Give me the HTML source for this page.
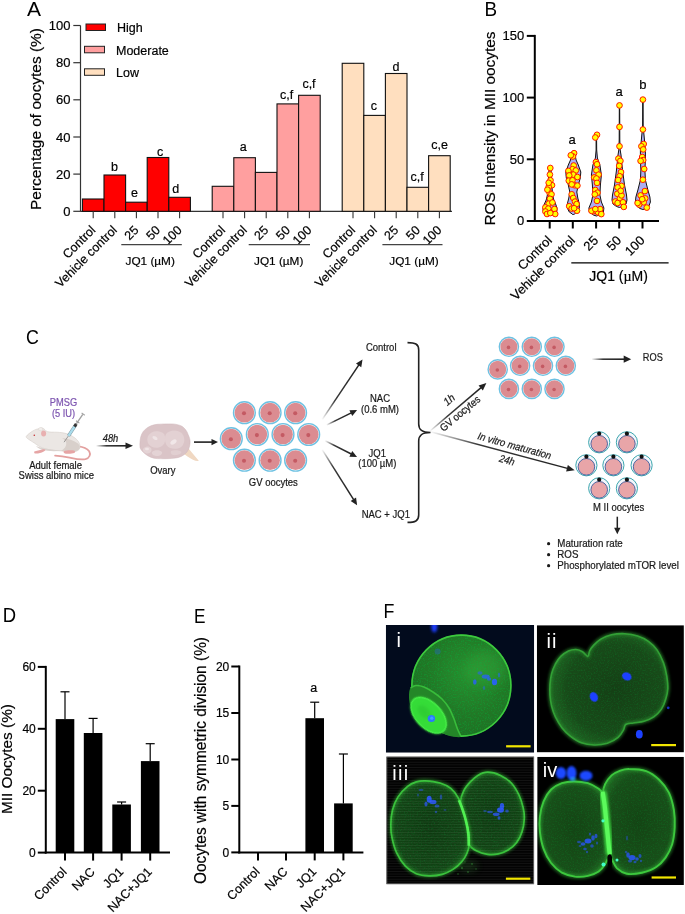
<!DOCTYPE html>
<html><head><meta charset="utf-8"><style>
html,body{margin:0;padding:0;background:#fff;overflow:hidden;}
svg{display:block;font-family:"Liberation Sans", sans-serif;will-change:transform;}
</style></head><body>
<svg width="685" height="914" viewBox="0 0 685 914">
<defs>
<linearGradient id="fadeA" x1="0" y1="0" x2="1" y2="0"><stop offset="0" stop-color="#222" stop-opacity="0"/><stop offset="0.35" stop-color="#222" stop-opacity="0.9"/><stop offset="1" stop-color="#222"/></linearGradient>
<radialGradient id="ovg" cx="0.45" cy="0.45" r="0.6"><stop offset="0" stop-color="#e4d0d3"/><stop offset="1" stop-color="#d5bcc0"/></radialGradient>
<marker id="ah" viewBox="0 0 10 10" refX="9" refY="5" markerWidth="6.5" markerHeight="6.5" markerUnits="userSpaceOnUse" orient="auto"><path d="M0,0 L10,5 L0,10 z" fill="#222"/></marker>
</defs>
<defs>
<filter id="b04" x="-20%" y="-20%" width="140%" height="140%"><feGaussianBlur stdDeviation="0.4"/></filter>
<filter id="b06" x="-20%" y="-20%" width="140%" height="140%"><feGaussianBlur stdDeviation="0.6"/></filter>
<filter id="b08" x="-20%" y="-20%" width="140%" height="140%"><feGaussianBlur stdDeviation="0.8"/></filter>
<filter id="b15" x="-30%" y="-30%" width="160%" height="160%"><feGaussianBlur stdDeviation="1.5"/></filter>
<filter id="b3" x="-50%" y="-50%" width="200%" height="200%"><feGaussianBlur stdDeviation="3"/></filter>
<filter id="b6" x="-50%" y="-50%" width="200%" height="200%"><feGaussianBlur stdDeviation="6"/></filter>
<filter id="noise" x="0" y="0" width="100%" height="100%">
 <feTurbulence type="fractalNoise" baseFrequency="0.7" numOctaves="2" seed="5" result="t"/>
 <feColorMatrix type="matrix" values="0 0 0 0 0  0 0 0 0 0.5  0 0 0 0 0.05  0 0 0 1.6 -0.75" in="t" result="g"/>
 <feComposite in="g" in2="SourceGraphic" operator="in"/>
</filter>
<radialGradient id="gi" cx="0.58" cy="0.38" r="0.65"><stop offset="0" stop-color="#299030"/><stop offset="0.6" stop-color="#227826"/><stop offset="1" stop-color="#1e7023"/></radialGradient>
<radialGradient id="gii" cx="0.55" cy="0.5" r="0.55"><stop offset="0" stop-color="#153f15"/><stop offset="0.75" stop-color="#184a19"/><stop offset="1" stop-color="#1f6222"/></radialGradient>
<radialGradient id="giii" cx="0.5" cy="0.5" r="0.55"><stop offset="0" stop-color="#0e3810"/><stop offset="0.8" stop-color="#124214"/><stop offset="1" stop-color="#195a1c"/></radialGradient>
<radialGradient id="giv" cx="0.5" cy="0.5" r="0.55"><stop offset="0" stop-color="#144414"/><stop offset="0.8" stop-color="#184e19"/><stop offset="1" stop-color="#206622"/></radialGradient>
<pattern id="scan" width="4" height="2.6" patternUnits="userSpaceOnUse"><rect y="0" width="4" height="0.7" fill="#ffffff" fill-opacity="0.08"/></pattern>
<clipPath id="cpi"><rect x="385.8" y="624.9" width="148.4" height="127.8"/></clipPath>
<clipPath id="cpii"><rect x="536.8" y="625.2" width="147.1" height="127.2"/></clipPath>
<clipPath id="cpiii"><rect x="386.3" y="756.5" width="147.9" height="127.8"/></clipPath>
<clipPath id="cpiv"><rect x="537.2" y="756.8" width="146.7" height="128.3"/></clipPath>
<clipPath id="cpcell"><ellipse cx="461.4" cy="685.6" rx="50.1" ry="51.1"/></clipPath>
</defs>
<text transform="translate(27.1,15.8)" font-size="21" fill="#000">A</text>
<line x1="80.5" y1="25.5" x2="80.5" y2="211.8" stroke="#333" stroke-width="1.2" />
<line x1="73.3" y1="211.3" x2="80.5" y2="211.3" stroke="#333" stroke-width="1.2" />
<text x="70.5" y="215.9" font-size="13" text-anchor="end" fill="#000" stroke="#000" stroke-width="0.2" >0</text>
<line x1="73.3" y1="174.1" x2="80.5" y2="174.1" stroke="#333" stroke-width="1.2" />
<text x="70.5" y="178.7" font-size="13" text-anchor="end" fill="#000" stroke="#000" stroke-width="0.2" >20</text>
<line x1="73.3" y1="137.0" x2="80.5" y2="137.0" stroke="#333" stroke-width="1.2" />
<text x="70.5" y="141.6" font-size="13" text-anchor="end" fill="#000" stroke="#000" stroke-width="0.2" >40</text>
<line x1="73.3" y1="99.8" x2="80.5" y2="99.8" stroke="#333" stroke-width="1.2" />
<text x="70.5" y="104.4" font-size="13" text-anchor="end" fill="#000" stroke="#000" stroke-width="0.2" >60</text>
<line x1="73.3" y1="62.7" x2="80.5" y2="62.7" stroke="#333" stroke-width="1.2" />
<text x="70.5" y="67.3" font-size="13" text-anchor="end" fill="#000" stroke="#000" stroke-width="0.2" >80</text>
<line x1="73.3" y1="25.5" x2="80.5" y2="25.5" stroke="#333" stroke-width="1.2" />
<text x="70.5" y="30.1" font-size="13" text-anchor="end" fill="#000" stroke="#000" stroke-width="0.2" >100</text>
<line x1="80.5" y1="211.3" x2="452.0" y2="211.3" stroke="#333" stroke-width="1.2" />
<text transform="translate(40.8,119.0) rotate(-90)" font-size="15.5" text-anchor="middle" fill="#000" stroke="#000" stroke-width="0.2" textLength="182" lengthAdjust="spacingAndGlyphs">Percentage of oocytes (%)</text>
<rect x="86.0" y="24.0" width="19.5" height="6.5" fill="#ff0000" stroke="#222" stroke-width="1" />
<rect x="84.5" y="46.3" width="20.0" height="6.5" fill="#ff9f9f" stroke="#222" stroke-width="1" />
<rect x="84.5" y="68.8" width="20.0" height="6.5" fill="#ffdfbf" stroke="#222" stroke-width="1" />
<text x="117.0" y="32.0" font-size="12.5" text-anchor="start" fill="#000" stroke="#000" stroke-width="0.2" >High</text>
<text x="116.0" y="54.5" font-size="12.5" text-anchor="start" fill="#000" stroke="#000" stroke-width="0.2" >Moderate</text>
<text x="116.0" y="77.0" font-size="12.5" text-anchor="start" fill="#000" stroke="#000" stroke-width="0.2" >Low</text>
<rect x="82.4" y="199.0" width="21.6" height="12.3" fill="#ff0000" stroke="#111" stroke-width="1.1" />
<line x1="93.2" y1="211.3" x2="93.2" y2="218.3" stroke="#333" stroke-width="1.1" />
<rect x="104.0" y="175.0" width="21.6" height="36.3" fill="#ff0000" stroke="#111" stroke-width="1.1" />
<line x1="114.8" y1="211.3" x2="114.8" y2="218.3" stroke="#333" stroke-width="1.1" />
<rect x="125.6" y="202.2" width="21.6" height="9.1" fill="#ff0000" stroke="#111" stroke-width="1.1" />
<line x1="136.4" y1="211.3" x2="136.4" y2="218.3" stroke="#333" stroke-width="1.1" />
<rect x="147.2" y="157.5" width="21.6" height="53.8" fill="#ff0000" stroke="#111" stroke-width="1.1" />
<line x1="158.0" y1="211.3" x2="158.0" y2="218.3" stroke="#333" stroke-width="1.1" />
<rect x="168.8" y="197.3" width="21.6" height="14.0" fill="#ff0000" stroke="#111" stroke-width="1.1" />
<line x1="179.6" y1="211.3" x2="179.6" y2="218.3" stroke="#333" stroke-width="1.1" />
<text x="114.4" y="170.7" font-size="12.5" text-anchor="middle" fill="#000" stroke="#000" stroke-width="0.2" >b</text>
<text x="134.6" y="197.0" font-size="12.5" text-anchor="middle" fill="#000" stroke="#000" stroke-width="0.2" >e</text>
<text x="160.0" y="155.8" font-size="12.5" text-anchor="middle" fill="#000" stroke="#000" stroke-width="0.2" >c</text>
<text x="175.7" y="192.6" font-size="12.5" text-anchor="middle" fill="#000" stroke="#000" stroke-width="0.2" >d</text>
<text transform="translate(96.2,230.8) rotate(-45)" font-size="12.5" text-anchor="end" fill="#000" stroke="#000" stroke-width="0.2" >Control</text>
<text transform="translate(117.8,230.8) rotate(-45)" font-size="12.5" text-anchor="end" fill="#000" stroke="#000" stroke-width="0.2" >Vehicle control</text>
<text transform="translate(139.4,230.8) rotate(-45)" font-size="12.5" text-anchor="end" fill="#000" stroke="#000" stroke-width="0.2" >25</text>
<text transform="translate(161.0,230.8) rotate(-45)" font-size="12.5" text-anchor="end" fill="#000" stroke="#000" stroke-width="0.2" >50</text>
<text transform="translate(182.6,230.8) rotate(-45)" font-size="12.5" text-anchor="end" fill="#000" stroke="#000" stroke-width="0.2" >100</text>
<line x1="121.3" y1="244.6" x2="181.8" y2="244.6" stroke="#444" stroke-width="1.1" />
<text x="150.2" y="264.6" font-size="11.8" text-anchor="middle" fill="#000" stroke="#000" stroke-width="0.2" >JQ1 (µM)</text>
<rect x="212.2" y="186.3" width="21.6" height="25.0" fill="#ff9f9f" stroke="#111" stroke-width="1.1" />
<line x1="223.0" y1="211.3" x2="223.0" y2="218.3" stroke="#333" stroke-width="1.1" />
<rect x="233.8" y="157.7" width="21.6" height="53.6" fill="#ff9f9f" stroke="#111" stroke-width="1.1" />
<line x1="244.6" y1="211.3" x2="244.6" y2="218.3" stroke="#333" stroke-width="1.1" />
<rect x="255.4" y="172.4" width="21.6" height="38.9" fill="#ff9f9f" stroke="#111" stroke-width="1.1" />
<line x1="266.2" y1="211.3" x2="266.2" y2="218.3" stroke="#333" stroke-width="1.1" />
<rect x="277.0" y="103.9" width="21.6" height="107.4" fill="#ff9f9f" stroke="#111" stroke-width="1.1" />
<line x1="287.8" y1="211.3" x2="287.8" y2="218.3" stroke="#333" stroke-width="1.1" />
<rect x="298.6" y="95.3" width="21.6" height="116.0" fill="#ff9f9f" stroke="#111" stroke-width="1.1" />
<line x1="309.4" y1="211.3" x2="309.4" y2="218.3" stroke="#333" stroke-width="1.1" />
<text x="243.2" y="151.0" font-size="12.5" text-anchor="middle" fill="#000" stroke="#000" stroke-width="0.2" >a</text>
<text x="286.6" y="98.8" font-size="12.5" text-anchor="middle" fill="#000" stroke="#000" stroke-width="0.2" >c,f</text>
<text x="309.0" y="87.8" font-size="12.5" text-anchor="middle" fill="#000" stroke="#000" stroke-width="0.2" >c,f</text>
<text transform="translate(226.0,230.8) rotate(-45)" font-size="12.5" text-anchor="end" fill="#000" stroke="#000" stroke-width="0.2" >Control</text>
<text transform="translate(247.6,230.8) rotate(-45)" font-size="12.5" text-anchor="end" fill="#000" stroke="#000" stroke-width="0.2" >Vehicle control</text>
<text transform="translate(269.2,230.8) rotate(-45)" font-size="12.5" text-anchor="end" fill="#000" stroke="#000" stroke-width="0.2" >25</text>
<text transform="translate(290.8,230.8) rotate(-45)" font-size="12.5" text-anchor="end" fill="#000" stroke="#000" stroke-width="0.2" >50</text>
<text transform="translate(312.4,230.8) rotate(-45)" font-size="12.5" text-anchor="end" fill="#000" stroke="#000" stroke-width="0.2" >100</text>
<line x1="248.7" y1="244.6" x2="310.0" y2="244.6" stroke="#444" stroke-width="1.1" />
<text x="278.7" y="264.6" font-size="11.8" text-anchor="middle" fill="#000" stroke="#000" stroke-width="0.2" >JQ1 (µM)</text>
<rect x="342.2" y="63.3" width="21.6" height="148.0" fill="#ffdfbf" stroke="#111" stroke-width="1.1" />
<line x1="353.0" y1="211.3" x2="353.0" y2="218.3" stroke="#333" stroke-width="1.1" />
<rect x="363.8" y="115.4" width="21.6" height="95.9" fill="#ffdfbf" stroke="#111" stroke-width="1.1" />
<line x1="374.6" y1="211.3" x2="374.6" y2="218.3" stroke="#333" stroke-width="1.1" />
<rect x="385.4" y="73.5" width="21.6" height="137.8" fill="#ffdfbf" stroke="#111" stroke-width="1.1" />
<line x1="396.2" y1="211.3" x2="396.2" y2="218.3" stroke="#333" stroke-width="1.1" />
<rect x="407.0" y="187.3" width="21.6" height="24.0" fill="#ffdfbf" stroke="#111" stroke-width="1.1" />
<line x1="417.8" y1="211.3" x2="417.8" y2="218.3" stroke="#333" stroke-width="1.1" />
<rect x="428.6" y="155.7" width="21.6" height="55.6" fill="#ffdfbf" stroke="#111" stroke-width="1.1" />
<line x1="439.4" y1="211.3" x2="439.4" y2="218.3" stroke="#333" stroke-width="1.1" />
<text x="373.9" y="109.9" font-size="12.5" text-anchor="middle" fill="#000" stroke="#000" stroke-width="0.2" >c</text>
<text x="396.1" y="71.0" font-size="12.5" text-anchor="middle" fill="#000" stroke="#000" stroke-width="0.2" >d</text>
<text x="417.2" y="180.8" font-size="12.5" text-anchor="middle" fill="#000" stroke="#000" stroke-width="0.2" >c,f</text>
<text x="439.7" y="148.7" font-size="12.5" text-anchor="middle" fill="#000" stroke="#000" stroke-width="0.2" >c,e</text>
<text transform="translate(356.0,230.8) rotate(-45)" font-size="12.5" text-anchor="end" fill="#000" stroke="#000" stroke-width="0.2" >Control</text>
<text transform="translate(377.6,230.8) rotate(-45)" font-size="12.5" text-anchor="end" fill="#000" stroke="#000" stroke-width="0.2" >Vehicle control</text>
<text transform="translate(399.2,230.8) rotate(-45)" font-size="12.5" text-anchor="end" fill="#000" stroke="#000" stroke-width="0.2" >25</text>
<text transform="translate(420.8,230.8) rotate(-45)" font-size="12.5" text-anchor="end" fill="#000" stroke="#000" stroke-width="0.2" >50</text>
<text transform="translate(442.4,230.8) rotate(-45)" font-size="12.5" text-anchor="end" fill="#000" stroke="#000" stroke-width="0.2" >100</text>
<line x1="382.4" y1="244.6" x2="442.5" y2="244.6" stroke="#444" stroke-width="1.1" />
<text x="414.0" y="264.6" font-size="11.8" text-anchor="middle" fill="#000" stroke="#000" stroke-width="0.2" >JQ1 (µM)</text>
<text transform="translate(484.4,15.8) scale(0.9,1)" font-size="21" fill="#000">B</text>
<line x1="534.8" y1="34.9" x2="534.8" y2="222.0" stroke="#000" stroke-width="2" />
<line x1="526.8" y1="221.0" x2="534.8" y2="221.0" stroke="#000" stroke-width="2" />
<text x="524.2" y="225.4" font-size="13" text-anchor="end" fill="#000" stroke="#000" stroke-width="0.2" >0</text>
<line x1="526.8" y1="159.3" x2="534.8" y2="159.3" stroke="#000" stroke-width="2" />
<text x="524.2" y="163.7" font-size="13" text-anchor="end" fill="#000" stroke="#000" stroke-width="0.2" >50</text>
<line x1="526.8" y1="97.6" x2="534.8" y2="97.6" stroke="#000" stroke-width="2" />
<text x="524.2" y="102.0" font-size="13" text-anchor="end" fill="#000" stroke="#000" stroke-width="0.2" >100</text>
<line x1="526.8" y1="35.9" x2="534.8" y2="35.9" stroke="#000" stroke-width="2" />
<text x="524.2" y="40.3" font-size="13" text-anchor="end" fill="#000" stroke="#000" stroke-width="0.2" >150</text>
<line x1="533.8" y1="221.0" x2="659.0" y2="221.0" stroke="#000" stroke-width="2" />
<text transform="translate(494.9,128.5) rotate(-90)" font-size="15.5" text-anchor="middle" fill="#000" stroke="#000" stroke-width="0.2" textLength="194" lengthAdjust="spacingAndGlyphs">ROS Intensity in MII oocytes</text>
<line x1="549.7" y1="221.0" x2="549.7" y2="228.5" stroke="#000" stroke-width="2" />
<line x1="572.8" y1="221.0" x2="572.8" y2="228.5" stroke="#000" stroke-width="2" />
<line x1="596.1" y1="221.0" x2="596.1" y2="228.5" stroke="#000" stroke-width="2" />
<line x1="619.2" y1="221.0" x2="619.2" y2="228.5" stroke="#000" stroke-width="2" />
<line x1="642.5" y1="221.0" x2="642.5" y2="228.5" stroke="#000" stroke-width="2" />
<text transform="translate(552.7,241.2) rotate(-45)" font-size="13" text-anchor="end" fill="#000" stroke="#000" stroke-width="0.2" >Control</text>
<text transform="translate(575.8,241.2) rotate(-45)" font-size="13" text-anchor="end" fill="#000" stroke="#000" stroke-width="0.2" >Vehicle control</text>
<text transform="translate(599.1,241.2) rotate(-45)" font-size="13" text-anchor="end" fill="#000" stroke="#000" stroke-width="0.2" >25</text>
<text transform="translate(622.2,241.2) rotate(-45)" font-size="13" text-anchor="end" fill="#000" stroke="#000" stroke-width="0.2" >50</text>
<text transform="translate(645.5,241.2) rotate(-45)" font-size="13" text-anchor="end" fill="#000" stroke="#000" stroke-width="0.2" >100</text>
<line x1="571.3" y1="262.9" x2="668.6" y2="262.9" stroke="#000" stroke-width="1.1" />
<text x="618.6" y="281.4" font-size="14" text-anchor="middle" fill="#000" stroke="#000" stroke-width="0.2" >JQ1 (<tspan font-family="Liberation Serif">µ</tspan>M)</text>
<text x="572.2" y="144.0" font-size="13" text-anchor="middle" fill="#000" stroke="#000" stroke-width="0.2" >a</text>
<text x="619.2" y="96.3" font-size="13" text-anchor="middle" fill="#000" stroke="#000" stroke-width="0.2" >a</text>
<text x="642.9" y="88.8" font-size="13" text-anchor="middle" fill="#000" stroke="#000" stroke-width="0.2" >b</text>
<path d="M550.3,166.0 L551.0,170.0 L551.4,175.0 L551.8,185.0 L552.6,195.0 L553.8,200.0 L555.6,204.0 L557.0,208.0 L556.8,211.5 L554.0,214.0 L550.0,215.5 L550.0,215.5 L546.0,214.0 L543.2,211.5 L543.0,208.0 L544.4,204.0 L546.2,200.0 L547.4,195.0 L548.2,185.0 L548.6,175.0 L549.0,170.0 L549.7,166.0Z" fill="#adadf0" stroke="#111" stroke-width="1" stroke-linejoin="round"/>
<path d="M573.6,151.0 L575.3,156.0 L576.1,160.0 L578.3,165.0 L580.8,172.0 L580.3,178.0 L578.3,185.0 L576.8,192.0 L577.8,198.0 L579.3,204.0 L579.3,208.0 L577.3,212.0 L574.3,214.0 L573.3,215.0 L573.3,215.0 L572.3,214.0 L569.3,212.0 L567.3,208.0 L567.3,204.0 L568.8,198.0 L569.8,192.0 L568.3,185.0 L566.3,178.0 L565.8,172.0 L568.3,165.0 L570.5,160.0 L571.3,156.0 L573.0,151.0Z" fill="#adadf0" stroke="#111" stroke-width="1" stroke-linejoin="round"/>
<path d="M596.6,134.0 L596.6,140.0 L596.7,150.0 L597.4,158.0 L599.9,165.0 L601.4,175.0 L600.4,185.0 L599.9,195.0 L601.4,202.0 L603.9,208.0 L603.4,212.0 L599.4,215.0 L596.4,216.0 L596.4,216.0 L593.4,215.0 L589.4,212.0 L588.9,208.0 L591.4,202.0 L592.9,195.0 L592.4,185.0 L591.4,175.0 L592.9,165.0 L595.4,158.0 L596.1,150.0 L596.1,140.0 L596.2,134.0Z" fill="#adadf0" stroke="#111" stroke-width="1" stroke-linejoin="round"/>
<path d="M619.7,104.0 L619.7,110.0 L619.8,140.0 L620.2,150.0 L621.0,155.0 L622.5,170.0 L624.5,185.0 L626.5,195.0 L627.0,200.0 L626.0,204.0 L622.5,206.5 L619.5,207.5 L619.5,207.5 L616.5,206.5 L613.0,204.0 L612.0,200.0 L612.5,195.0 L614.5,185.0 L616.5,170.0 L618.0,155.0 L618.8,150.0 L619.2,140.0 L619.3,110.0 L619.3,104.0Z" fill="#adadf0" stroke="#111" stroke-width="1" stroke-linejoin="round"/>
<path d="M643.1,99.0 L643.1,110.0 L643.2,128.0 L644.0,135.0 L645.4,150.0 L645.4,160.0 L644.9,170.0 L645.4,180.0 L647.9,190.0 L649.9,197.0 L650.4,202.0 L648.9,206.0 L645.9,208.5 L642.9,209.5 L642.9,209.5 L639.9,208.5 L636.9,206.0 L635.4,202.0 L635.9,197.0 L637.9,190.0 L640.4,180.0 L640.9,170.0 L640.4,160.0 L640.4,150.0 L641.8,135.0 L642.6,128.0 L642.7,110.0 L642.7,99.0Z" fill="#adadf0" stroke="#111" stroke-width="1" stroke-linejoin="round"/>
<circle cx="550.3" cy="168" r="2.85" fill="#ffff00" stroke="#ff1800" stroke-width="1.0"/>
<circle cx="549.9" cy="174.6" r="2.85" fill="#ffff00" stroke="#ff1800" stroke-width="1.0"/>
<circle cx="550.5" cy="180.3" r="2.85" fill="#ffff00" stroke="#ff1800" stroke-width="1.0"/>
<circle cx="552" cy="185.2" r="2.85" fill="#ffff00" stroke="#ff1800" stroke-width="1.0"/>
<circle cx="548.7" cy="186.9" r="2.85" fill="#ffff00" stroke="#ff1800" stroke-width="1.0"/>
<circle cx="549.5" cy="192.6" r="2.85" fill="#ffff00" stroke="#ff1800" stroke-width="1.0"/>
<circle cx="547.4" cy="189.7" r="2.85" fill="#ffff00" stroke="#ff1800" stroke-width="1.0"/>
<circle cx="551.5" cy="194.3" r="2.85" fill="#ffff00" stroke="#ff1800" stroke-width="1.0"/>
<circle cx="549.9" cy="198.8" r="2.85" fill="#ffff00" stroke="#ff1800" stroke-width="1.0"/>
<circle cx="548.7" cy="203.7" r="2.85" fill="#ffff00" stroke="#ff1800" stroke-width="1.0"/>
<circle cx="552.4" cy="202.5" r="2.85" fill="#ffff00" stroke="#ff1800" stroke-width="1.0"/>
<circle cx="545.4" cy="207.4" r="2.85" fill="#ffff00" stroke="#ff1800" stroke-width="1.0"/>
<circle cx="548.3" cy="208.6" r="2.85" fill="#ffff00" stroke="#ff1800" stroke-width="1.0"/>
<circle cx="552.4" cy="212.3" r="2.85" fill="#ffff00" stroke="#ff1800" stroke-width="1.0"/>
<circle cx="545.4" cy="211.5" r="2.85" fill="#ffff00" stroke="#ff1800" stroke-width="1.0"/>
<circle cx="554.4" cy="209" r="2.85" fill="#ffff00" stroke="#ff1800" stroke-width="1.0"/>
<circle cx="555.2" cy="214" r="2.85" fill="#ffff00" stroke="#ff1800" stroke-width="1.0"/>
<circle cx="547" cy="214" r="2.85" fill="#ffff00" stroke="#ff1800" stroke-width="1.0"/>
<circle cx="550.3" cy="213.1" r="2.85" fill="#ffff00" stroke="#ff1800" stroke-width="1.0"/>
<circle cx="548.7" cy="182.8" r="2.85" fill="#ffff00" stroke="#ff1800" stroke-width="1.0"/>
<circle cx="574.1" cy="153.2" r="2.85" fill="#ffff00" stroke="#ff1800" stroke-width="1.0"/>
<circle cx="572.9" cy="156.5" r="2.85" fill="#ffff00" stroke="#ff1800" stroke-width="1.0"/>
<circle cx="570.8" cy="155.3" r="2.85" fill="#ffff00" stroke="#ff1800" stroke-width="1.0"/>
<circle cx="573.7" cy="165.5" r="2.85" fill="#ffff00" stroke="#ff1800" stroke-width="1.0"/>
<circle cx="572.5" cy="169.2" r="2.85" fill="#ffff00" stroke="#ff1800" stroke-width="1.0"/>
<circle cx="568.4" cy="170.9" r="2.85" fill="#ffff00" stroke="#ff1800" stroke-width="1.0"/>
<circle cx="575.8" cy="170.5" r="2.85" fill="#ffff00" stroke="#ff1800" stroke-width="1.0"/>
<circle cx="573.3" cy="174.6" r="2.85" fill="#ffff00" stroke="#ff1800" stroke-width="1.0"/>
<circle cx="569.2" cy="175.4" r="2.85" fill="#ffff00" stroke="#ff1800" stroke-width="1.0"/>
<circle cx="577.4" cy="177" r="2.85" fill="#ffff00" stroke="#ff1800" stroke-width="1.0"/>
<circle cx="568.8" cy="180.7" r="2.85" fill="#ffff00" stroke="#ff1800" stroke-width="1.0"/>
<circle cx="572.5" cy="180.3" r="2.85" fill="#ffff00" stroke="#ff1800" stroke-width="1.0"/>
<circle cx="574.5" cy="185.2" r="2.85" fill="#ffff00" stroke="#ff1800" stroke-width="1.0"/>
<circle cx="577.4" cy="185.6" r="2.85" fill="#ffff00" stroke="#ff1800" stroke-width="1.0"/>
<circle cx="571.7" cy="184.4" r="2.85" fill="#ffff00" stroke="#ff1800" stroke-width="1.0"/>
<circle cx="571.7" cy="194.3" r="2.85" fill="#ffff00" stroke="#ff1800" stroke-width="1.0"/>
<circle cx="573.3" cy="198" r="2.85" fill="#ffff00" stroke="#ff1800" stroke-width="1.0"/>
<circle cx="575" cy="201.6" r="2.85" fill="#ffff00" stroke="#ff1800" stroke-width="1.0"/>
<circle cx="576.6" cy="204.1" r="2.85" fill="#ffff00" stroke="#ff1800" stroke-width="1.0"/>
<circle cx="569.2" cy="206.2" r="2.85" fill="#ffff00" stroke="#ff1800" stroke-width="1.0"/>
<circle cx="571.7" cy="208.6" r="2.85" fill="#ffff00" stroke="#ff1800" stroke-width="1.0"/>
<circle cx="577" cy="210.7" r="2.85" fill="#ffff00" stroke="#ff1800" stroke-width="1.0"/>
<circle cx="574.1" cy="208.2" r="2.85" fill="#ffff00" stroke="#ff1800" stroke-width="1.0"/>
<circle cx="597" cy="134.8" r="2.85" fill="#ffff00" stroke="#ff1800" stroke-width="1.0"/>
<circle cx="595.3" cy="137.5" r="2.85" fill="#ffff00" stroke="#ff1800" stroke-width="1.0"/>
<circle cx="595.9" cy="162.1" r="2.85" fill="#ffff00" stroke="#ff1800" stroke-width="1.0"/>
<circle cx="597" cy="164.3" r="2.85" fill="#ffff00" stroke="#ff1800" stroke-width="1.0"/>
<circle cx="596.4" cy="170.3" r="2.85" fill="#ffff00" stroke="#ff1800" stroke-width="1.0"/>
<circle cx="598.6" cy="174.7" r="2.85" fill="#ffff00" stroke="#ff1800" stroke-width="1.0"/>
<circle cx="594.2" cy="177.4" r="2.85" fill="#ffff00" stroke="#ff1800" stroke-width="1.0"/>
<circle cx="596.4" cy="178.5" r="2.85" fill="#ffff00" stroke="#ff1800" stroke-width="1.0"/>
<circle cx="597" cy="182.9" r="2.85" fill="#ffff00" stroke="#ff1800" stroke-width="1.0"/>
<circle cx="595.3" cy="190" r="2.85" fill="#ffff00" stroke="#ff1800" stroke-width="1.0"/>
<circle cx="597.5" cy="192.7" r="2.85" fill="#ffff00" stroke="#ff1800" stroke-width="1.0"/>
<circle cx="594.8" cy="194.4" r="2.85" fill="#ffff00" stroke="#ff1800" stroke-width="1.0"/>
<circle cx="597" cy="200.9" r="2.85" fill="#ffff00" stroke="#ff1800" stroke-width="1.0"/>
<circle cx="593.1" cy="211.3" r="2.85" fill="#ffff00" stroke="#ff1800" stroke-width="1.0"/>
<circle cx="598" cy="212.4" r="2.85" fill="#ffff00" stroke="#ff1800" stroke-width="1.0"/>
<circle cx="591.5" cy="210.8" r="2.85" fill="#ffff00" stroke="#ff1800" stroke-width="1.0"/>
<circle cx="600.2" cy="209.1" r="2.85" fill="#ffff00" stroke="#ff1800" stroke-width="1.0"/>
<circle cx="601.3" cy="214.1" r="2.85" fill="#ffff00" stroke="#ff1800" stroke-width="1.0"/>
<circle cx="595.3" cy="209.1" r="2.85" fill="#ffff00" stroke="#ff1800" stroke-width="1.0"/>
<circle cx="619.5" cy="105.4" r="2.85" fill="#ffff00" stroke="#ff1800" stroke-width="1.0"/>
<circle cx="619.5" cy="126.9" r="2.85" fill="#ffff00" stroke="#ff1800" stroke-width="1.0"/>
<circle cx="619.5" cy="146.3" r="2.85" fill="#ffff00" stroke="#ff1800" stroke-width="1.0"/>
<circle cx="618.4" cy="158.6" r="2.85" fill="#ffff00" stroke="#ff1800" stroke-width="1.0"/>
<circle cx="620.4" cy="160.9" r="2.85" fill="#ffff00" stroke="#ff1800" stroke-width="1.0"/>
<circle cx="619.2" cy="165.9" r="2.85" fill="#ffff00" stroke="#ff1800" stroke-width="1.0"/>
<circle cx="621" cy="172.1" r="2.85" fill="#ffff00" stroke="#ff1800" stroke-width="1.0"/>
<circle cx="619.6" cy="176.2" r="2.85" fill="#ffff00" stroke="#ff1800" stroke-width="1.0"/>
<circle cx="618.1" cy="180" r="2.85" fill="#ffff00" stroke="#ff1800" stroke-width="1.0"/>
<circle cx="621.5" cy="185.9" r="2.85" fill="#ffff00" stroke="#ff1800" stroke-width="1.0"/>
<circle cx="617.6" cy="187.4" r="2.85" fill="#ffff00" stroke="#ff1800" stroke-width="1.0"/>
<circle cx="617.3" cy="193.8" r="2.85" fill="#ffff00" stroke="#ff1800" stroke-width="1.0"/>
<circle cx="619.9" cy="198.4" r="2.85" fill="#ffff00" stroke="#ff1800" stroke-width="1.0"/>
<circle cx="615.3" cy="201.5" r="2.85" fill="#ffff00" stroke="#ff1800" stroke-width="1.0"/>
<circle cx="617.6" cy="203" r="2.85" fill="#ffff00" stroke="#ff1800" stroke-width="1.0"/>
<circle cx="623" cy="202.3" r="2.85" fill="#ffff00" stroke="#ff1800" stroke-width="1.0"/>
<circle cx="623.8" cy="206.9" r="2.85" fill="#ffff00" stroke="#ff1800" stroke-width="1.0"/>
<circle cx="621.5" cy="195.4" r="2.85" fill="#ffff00" stroke="#ff1800" stroke-width="1.0"/>
<circle cx="620.7" cy="190.8" r="2.85" fill="#ffff00" stroke="#ff1800" stroke-width="1.0"/>
<circle cx="642.9" cy="99.6" r="2.85" fill="#ffff00" stroke="#ff1800" stroke-width="1.0"/>
<circle cx="642.9" cy="129.5" r="2.85" fill="#ffff00" stroke="#ff1800" stroke-width="1.0"/>
<circle cx="643.7" cy="144" r="2.85" fill="#ffff00" stroke="#ff1800" stroke-width="1.0"/>
<circle cx="641.4" cy="146.3" r="2.85" fill="#ffff00" stroke="#ff1800" stroke-width="1.0"/>
<circle cx="643.2" cy="149.4" r="2.85" fill="#ffff00" stroke="#ff1800" stroke-width="1.0"/>
<circle cx="642.2" cy="157" r="2.85" fill="#ffff00" stroke="#ff1800" stroke-width="1.0"/>
<circle cx="643.2" cy="160.1" r="2.85" fill="#ffff00" stroke="#ff1800" stroke-width="1.0"/>
<circle cx="640.6" cy="160.9" r="2.85" fill="#ffff00" stroke="#ff1800" stroke-width="1.0"/>
<circle cx="644.2" cy="169" r="2.85" fill="#ffff00" stroke="#ff1800" stroke-width="1.0"/>
<circle cx="642.9" cy="179.7" r="2.85" fill="#ffff00" stroke="#ff1800" stroke-width="1.0"/>
<circle cx="644.9" cy="191.1" r="2.85" fill="#ffff00" stroke="#ff1800" stroke-width="1.0"/>
<circle cx="640.6" cy="195.4" r="2.85" fill="#ffff00" stroke="#ff1800" stroke-width="1.0"/>
<circle cx="645.2" cy="198.4" r="2.85" fill="#ffff00" stroke="#ff1800" stroke-width="1.0"/>
<circle cx="643.7" cy="202.3" r="2.85" fill="#ffff00" stroke="#ff1800" stroke-width="1.0"/>
<circle cx="639.1" cy="204.6" r="2.85" fill="#ffff00" stroke="#ff1800" stroke-width="1.0"/>
<circle cx="646.8" cy="207.6" r="2.85" fill="#ffff00" stroke="#ff1800" stroke-width="1.0"/>
<circle cx="637.6" cy="203" r="2.85" fill="#ffff00" stroke="#ff1800" stroke-width="1.0"/>
<circle cx="642.2" cy="199.2" r="2.85" fill="#ffff00" stroke="#ff1800" stroke-width="1.0"/>
<text transform="translate(2.7,622.2) scale(0.88,1)" font-size="21" fill="#000">D</text>
<line x1="45.8" y1="665.9" x2="45.8" y2="853.6" stroke="#000" stroke-width="2" />
<line x1="37.8" y1="852.6" x2="45.8" y2="852.6" stroke="#000" stroke-width="2" />
<text x="35.8" y="857.0" font-size="12" text-anchor="end" fill="#000" stroke="#000" stroke-width="0.2" >0</text>
<line x1="37.8" y1="790.7" x2="45.8" y2="790.7" stroke="#000" stroke-width="2" />
<text x="35.8" y="795.1" font-size="12" text-anchor="end" fill="#000" stroke="#000" stroke-width="0.2" >20</text>
<line x1="37.8" y1="728.8" x2="45.8" y2="728.8" stroke="#000" stroke-width="2" />
<text x="35.8" y="733.2" font-size="12" text-anchor="end" fill="#000" stroke="#000" stroke-width="0.2" >40</text>
<line x1="37.8" y1="666.9" x2="45.8" y2="666.9" stroke="#000" stroke-width="2" />
<text x="35.8" y="671.3" font-size="12" text-anchor="end" fill="#000" stroke="#000" stroke-width="0.2" >60</text>
<line x1="44.8" y1="852.6" x2="170.0" y2="852.6" stroke="#000" stroke-width="2" />
<text transform="translate(12.2,759.1) rotate(-90)" font-size="15.3" text-anchor="middle" fill="#000" stroke="#000" stroke-width="0.2" textLength="110" lengthAdjust="spacingAndGlyphs">MII Oocytes (%)</text>
<rect x="55.7" y="719.1" width="18.6" height="133.5" fill="#000" stroke="none" stroke-width="1" />
<line x1="65.0" y1="691.8" x2="65.0" y2="719.1" stroke="#000" stroke-width="1.2" />
<line x1="60.5" y1="691.8" x2="69.5" y2="691.8" stroke="#000" stroke-width="1.2" />
<line x1="65.0" y1="852.6" x2="65.0" y2="860.6" stroke="#000" stroke-width="2" />
<rect x="83.8" y="733.0" width="18.6" height="119.6" fill="#000" stroke="none" stroke-width="1" />
<line x1="93.1" y1="718.4" x2="93.1" y2="733.0" stroke="#000" stroke-width="1.2" />
<line x1="88.6" y1="718.4" x2="97.6" y2="718.4" stroke="#000" stroke-width="1.2" />
<line x1="93.1" y1="852.6" x2="93.1" y2="860.6" stroke="#000" stroke-width="2" />
<rect x="112.3" y="804.5" width="18.6" height="48.1" fill="#000" stroke="none" stroke-width="1" />
<line x1="121.6" y1="802.0" x2="121.6" y2="804.5" stroke="#000" stroke-width="1.2" />
<line x1="117.1" y1="802.0" x2="126.1" y2="802.0" stroke="#000" stroke-width="1.2" />
<line x1="121.6" y1="852.6" x2="121.6" y2="860.6" stroke="#000" stroke-width="2" />
<rect x="140.9" y="761.1" width="18.6" height="91.5" fill="#000" stroke="none" stroke-width="1" />
<line x1="150.2" y1="743.7" x2="150.2" y2="761.1" stroke="#000" stroke-width="1.2" />
<line x1="145.7" y1="743.7" x2="154.7" y2="743.7" stroke="#000" stroke-width="1.2" />
<line x1="150.2" y1="852.6" x2="150.2" y2="860.6" stroke="#000" stroke-width="2" />
<text transform="translate(67.5,872.6) rotate(-45)" font-size="12.5" text-anchor="end" fill="#000" stroke="#000" stroke-width="0.2" >Control</text>
<text transform="translate(95.6,872.6) rotate(-45)" font-size="12.5" text-anchor="end" fill="#000" stroke="#000" stroke-width="0.2" >NAC</text>
<text transform="translate(124.1,872.6) rotate(-45)" font-size="12.5" text-anchor="end" fill="#000" stroke="#000" stroke-width="0.2" >JQ1</text>
<text transform="translate(152.7,872.6) rotate(-45)" font-size="12.5" text-anchor="end" fill="#000" stroke="#000" stroke-width="0.2" >NAC+JQ1</text>
<text transform="translate(193.9,622.8) scale(0.82,1)" font-size="21" fill="#000">E</text>
<line x1="239.3" y1="665.5" x2="239.3" y2="853.4" stroke="#000" stroke-width="2" />
<line x1="231.3" y1="852.4" x2="239.3" y2="852.4" stroke="#000" stroke-width="2" />
<text x="229.3" y="856.8" font-size="12" text-anchor="end" fill="#000" stroke="#000" stroke-width="0.2" >0</text>
<line x1="231.3" y1="805.9" x2="239.3" y2="805.9" stroke="#000" stroke-width="2" />
<text x="229.3" y="810.3" font-size="12" text-anchor="end" fill="#000" stroke="#000" stroke-width="0.2" >5</text>
<line x1="231.3" y1="759.5" x2="239.3" y2="759.5" stroke="#000" stroke-width="2" />
<text x="229.3" y="763.9" font-size="12" text-anchor="end" fill="#000" stroke="#000" stroke-width="0.2" >10</text>
<line x1="231.3" y1="713.0" x2="239.3" y2="713.0" stroke="#000" stroke-width="2" />
<text x="229.3" y="717.4" font-size="12" text-anchor="end" fill="#000" stroke="#000" stroke-width="0.2" >15</text>
<line x1="231.3" y1="666.5" x2="239.3" y2="666.5" stroke="#000" stroke-width="2" />
<text x="229.3" y="670.9" font-size="12" text-anchor="end" fill="#000" stroke="#000" stroke-width="0.2" >20</text>
<line x1="238.3" y1="852.4" x2="363.4" y2="852.4" stroke="#000" stroke-width="2" />
<text transform="translate(206.3,760.5) rotate(-90)" font-size="17" text-anchor="middle" fill="#000" stroke="#000" stroke-width="0.2" textLength="247" lengthAdjust="spacingAndGlyphs">Oocytes with symmetric division (%)</text>
<line x1="258.0" y1="852.4" x2="258.0" y2="860.4" stroke="#000" stroke-width="2" />
<line x1="286.0" y1="852.4" x2="286.0" y2="860.4" stroke="#000" stroke-width="2" />
<rect x="305.4" y="718.2" width="18.6" height="134.2" fill="#000" stroke="none" stroke-width="1" />
<line x1="314.7" y1="702.2" x2="314.7" y2="718.2" stroke="#000" stroke-width="1.2" />
<line x1="310.2" y1="702.2" x2="319.2" y2="702.2" stroke="#000" stroke-width="1.2" />
<line x1="314.7" y1="852.4" x2="314.7" y2="860.4" stroke="#000" stroke-width="2" />
<rect x="334.1" y="803.4" width="18.6" height="49.0" fill="#000" stroke="none" stroke-width="1" />
<line x1="343.4" y1="754.0" x2="343.4" y2="803.4" stroke="#000" stroke-width="1.2" />
<line x1="338.9" y1="754.0" x2="347.9" y2="754.0" stroke="#000" stroke-width="1.2" />
<line x1="343.4" y1="852.4" x2="343.4" y2="860.4" stroke="#000" stroke-width="2" />
<text transform="translate(260.5,872.4) rotate(-45)" font-size="12.5" text-anchor="end" fill="#000" stroke="#000" stroke-width="0.2" >Control</text>
<text transform="translate(288.5,872.4) rotate(-45)" font-size="12.5" text-anchor="end" fill="#000" stroke="#000" stroke-width="0.2" >NAC</text>
<text transform="translate(317.2,872.4) rotate(-45)" font-size="12.5" text-anchor="end" fill="#000" stroke="#000" stroke-width="0.2" >JQ1</text>
<text transform="translate(345.9,872.4) rotate(-45)" font-size="12.5" text-anchor="end" fill="#000" stroke="#000" stroke-width="0.2" >NAC+JQ1</text>
<text x="313.7" y="692.0" font-size="12.5" text-anchor="middle" fill="#000" stroke="#000" stroke-width="0.2" >a</text>
<text transform="translate(25.9,344.3) scale(0.85,1)" font-size="21" fill="#000">C</text>
<path d="M78.5,446.4 C82,446.8 86.5,448 89.2,451.3 C91,454.5 89.5,458 85.5,459.2 C80,460.2 74,458.6 69.6,457.6 C64,456.5 59,455.9 55.1,455.6" fill="none" stroke="#e3a09f" stroke-width="1.8" stroke-linecap="round"/>
<path d="M26.2,436.6 C26.5,435.8 27.9,434.5 29.0,433.6 C30.1,432.7 31.5,431.7 32.7,431.0 C33.9,430.3 34.9,429.8 36.0,429.4 C37.1,429.0 38.1,428.8 39.1,428.5 C40.1,428.2 41.3,427.7 42.3,427.9 C43.3,428.1 44.2,429.2 45.0,429.8 C45.8,430.4 46.0,431.2 47.1,431.6 C48.2,432.0 49.9,432.0 51.5,432.1 C53.1,432.2 55.1,432.1 56.8,432.2 C58.5,432.3 59.9,432.4 61.5,432.6 C63.1,432.8 64.9,433.2 66.4,433.6 C68.0,434.0 69.5,434.5 70.8,435.2 C72.1,435.9 73.3,436.8 74.4,437.6 C75.5,438.4 76.5,439.3 77.3,440.2 C78.1,441.1 78.8,442.0 79.2,443.0 C79.7,444.0 80.0,445.2 80.0,446.3 C80.0,447.4 79.7,448.6 79.1,449.4 C78.5,450.2 77.5,450.8 76.5,451.2 C75.5,451.6 74.2,451.8 72.8,451.8 C71.4,451.9 69.6,451.6 68.0,451.5 C66.4,451.4 65.0,451.1 63.2,451.0 C61.5,450.9 59.4,450.8 57.5,450.7 C55.6,450.6 53.7,450.4 51.9,450.2 C50.1,449.9 48.4,449.6 46.8,449.2 C45.2,448.8 43.8,448.4 42.3,447.8 C40.8,447.2 39.3,446.4 38.0,445.6 C36.7,444.8 35.4,443.7 34.3,443.0 C33.2,442.3 32.4,441.8 31.6,441.3 C30.8,440.8 30.2,440.4 29.5,439.9 C28.8,439.4 27.9,438.9 27.4,438.4 C26.8,437.8 25.9,437.4 26.2,436.6Z" fill="#ebe7e4" stroke="#d0c8c3" stroke-width="0.5"/>
<path d="M62,438 C68,438.5 74,440.5 78,443.5 C80,445.5 80.3,447.5 79,449.5 C77,451.3 74,451.9 70.5,451.8 C67,451.6 63.5,451.3 61,451 C64.5,449 66.5,446 66.3,443 C65.8,441 64.2,439.2 62,438 Z" fill="#d8d0cb"/>
<path d="M36,446 C43,448.6 53,450 62,450.6 C55,451.6 47,451.2 42,449.8 C39,448.8 37,447.5 36,446 Z" fill="#dad3cf"/>
<path d="M38.2,429.6 C38.6,428 40,427.3 41.4,427.6 C42.6,428 43,429.4 42.5,430.8 C41.2,431 39.4,430.6 38.2,429.6 Z" fill="#f1eeec" stroke="#d6cfcb" stroke-width="0.4"/>
<ellipse cx="43.6" cy="433.6" rx="2.5" ry="3" fill="#e8b0b0"/>
<circle cx="34.3" cy="435.3" r="0.8" fill="#c42a2e"/>
<path d="M34.3,451.6 C36.5,450.6 39.5,450 42.2,449.4 C43.8,449.1 45.2,449.3 45.5,450 C44.5,451.4 42.5,452.3 40,453 C38,453.5 36,453.8 34.8,453.4 C34.2,453 34,452.3 34.3,451.6 Z" fill="#e6a5a5"/>
<path d="M63.5,451.4 C66,450.4 70,450.1 74,450.6 C75.4,451 75.5,452.3 74.3,453.1 C72,453.9 68.5,454 66,453.7 C64.5,453.3 63.4,452.5 63.5,451.4 Z" fill="#e6a5a5"/>
<line x1="64" y1="442.2" x2="68.8" y2="435.4" stroke="#666" stroke-width="0.6"/>
<line x1="68.5" y1="435.8" x2="75.2" y2="425.6" stroke="#7f9aa3" stroke-width="3.3" stroke-linecap="butt"/>
<line x1="68.5" y1="435.8" x2="75.2" y2="425.6" stroke="#a9dded" stroke-width="2.3" stroke-linecap="butt"/>
<line x1="74.5" y1="426.6" x2="76.3" y2="423.9" stroke="#333" stroke-width="3"/>
<line x1="76.1" y1="424.2" x2="82.8" y2="414.4" stroke="#a0a0a0" stroke-width="1.4"/>
<line x1="76" y1="420.8" x2="79.4" y2="423.1" stroke="#9a9a9a" stroke-width="1.1"/>
<line x1="81.6" y1="413" x2="84.8" y2="415.2" stroke="#a5a5a5" stroke-width="1.1"/>
<text transform="translate(63.5,405.6) scale(1,1.1)" font-size="9.3" text-anchor="middle" fill="#7d55b0" stroke="#7d55b0" stroke-width="0.2" >PMSG</text>
<text transform="translate(63.5,416.8) scale(1,1.1)" font-size="9.3" text-anchor="middle" fill="#7d55b0" stroke="#7d55b0" stroke-width="0.2" >(5 IU)</text>
<text transform="translate(55.6,468.6) scale(1,1.1)" font-size="9.5" text-anchor="middle" fill="#1a1a1a" stroke="#1a1a1a" stroke-width="0.2" >Adult female</text>
<text transform="translate(56.3,478.8) scale(1,1.1)" font-size="9.5" text-anchor="middle" fill="#1a1a1a" stroke="#1a1a1a" stroke-width="0.2" >Swiss albino mice</text>
<g transform="translate(96.0,445.8) rotate(0.00)"><rect x="0" y="-0.80" width="30.0" height="1.6" fill="url(#fadeA)"/><path d="M29.5,-3.3 L37.0,0 L29.5,3.3 z" fill="#222"/></g>
<text transform="translate(110.5,441.5) scale(1,1.1)" font-size="9.3" text-anchor="middle" fill="#1a1a1a" stroke="#1a1a1a" stroke-width="0.2" font-style="italic">48h</text>
<path d="M185.5,444.5 C189,449 194,455 198.8,460.8 C196,461.6 192,459.5 187.5,456.5 L184,454 Z" fill="#f0d8c2"/>
<path d="M140.1,440.7 C140.5,435.5 142.5,431.8 145.2,429.4 C149,426 153,424.8 157.4,424.3 C162,423.8 167,424 171.7,423.9 C176,424 179.5,425 182,426.3 C185,428.5 187.2,431.3 188.1,434.5 C189.5,437.5 190.3,440 190.1,442.7 C189.8,447 188.5,450.5 186.1,452.9 C183,456 179.5,457.5 175.8,458 C170,458.8 163,458.9 157.4,458.6 C152.5,458.3 148.3,456.6 145.2,453.9 C142.5,451.8 140.8,449.8 140.1,447.8 C139.8,445.5 139.8,443 140.1,440.7 Z" fill="#dac4c7" stroke="#ceb5b9" stroke-width="0.5"/>
<path d="M148,436 C151,430.5 158,430 163,433 C166.5,436 166,443 162,446 C158,449 151,448 148.5,444 C147,441.5 147,438.5 148,436 Z" fill="#e3d1d3"/>
<path d="M166,434 C170,429 178,429.5 182,433.5 C185.5,437.5 185,444.5 180.5,447.5 C176,450 169,449 166.5,445 C164.5,441.5 164.5,437 166,434 Z" fill="#e3d1d3"/>
<path d="M143,449 C144.5,446 149,445.5 151,448 C152.5,450.5 150.5,453.5 147.5,453.5 C145,453.5 142.5,451.5 143,449 Z" fill="#e4d3d5"/>
<path d="M152,452 C154,449.5 160,449.5 162,452 C163,454.5 159,456.5 156,456 C153.5,455.8 151.5,454 152,452 Z" fill="#e4d3d5"/>
<path d="M171,451 C174,449.5 180,450 181.5,452 C181,454.5 176,455.5 173,455 C171,454.5 170.3,452.8 171,451 Z" fill="#e1cfd1"/>
<ellipse cx="173.5" cy="442" rx="3.5" ry="2" transform="rotate(-35 173.5 442)" fill="#f1e7e8"/>
<ellipse cx="155" cy="438" rx="2.8" ry="1.6" transform="rotate(30 155 438)" fill="#efe4e5"/>
<ellipse cx="147" cy="449" rx="2" ry="1.3" fill="#efe4e5"/>
<text transform="translate(162.8,474.4) scale(1,1.1)" font-size="9.5" text-anchor="middle" fill="#1a1a1a" stroke="#1a1a1a" stroke-width="0.2" >Ovary</text>
<g transform="translate(194.0,442.1) rotate(0.00)"><rect x="0" y="-0.80" width="18.0" height="1.6" fill="#222"/><path d="M17.5,-3.2 L24.0,0 L17.5,3.2 z" fill="#222"/></g>
<circle cx="244.4" cy="412.7" r="10.90" fill="#fff" stroke="#6dc1e2" stroke-width="1.4"/>
<circle cx="244.4" cy="412.7" r="9.85" fill="#db8c91"/>
<circle cx="244.0" cy="413.3" r="2.03" fill="#c45a63"/>
<circle cx="270.1" cy="412.7" r="10.90" fill="#fff" stroke="#6dc1e2" stroke-width="1.4"/>
<circle cx="270.1" cy="412.7" r="9.85" fill="#db8c91"/>
<circle cx="269.7" cy="413.3" r="2.03" fill="#c45a63"/>
<circle cx="295.6" cy="412.7" r="10.90" fill="#fff" stroke="#6dc1e2" stroke-width="1.4"/>
<circle cx="295.6" cy="412.7" r="9.85" fill="#db8c91"/>
<circle cx="295.2" cy="413.3" r="2.03" fill="#c45a63"/>
<circle cx="231.3" cy="438.7" r="10.90" fill="#fff" stroke="#6dc1e2" stroke-width="1.4"/>
<circle cx="231.3" cy="438.7" r="9.85" fill="#db8c91"/>
<circle cx="230.9" cy="439.3" r="2.03" fill="#c45a63"/>
<circle cx="257.3" cy="434.5" r="10.90" fill="#fff" stroke="#6dc1e2" stroke-width="1.4"/>
<circle cx="257.3" cy="434.5" r="9.85" fill="#db8c91"/>
<circle cx="256.9" cy="435.1" r="2.03" fill="#c45a63"/>
<circle cx="283.0" cy="434.5" r="10.90" fill="#fff" stroke="#6dc1e2" stroke-width="1.4"/>
<circle cx="283.0" cy="434.5" r="9.85" fill="#db8c91"/>
<circle cx="282.6" cy="435.1" r="2.03" fill="#c45a63"/>
<circle cx="308.7" cy="434.5" r="10.90" fill="#fff" stroke="#6dc1e2" stroke-width="1.4"/>
<circle cx="308.7" cy="434.5" r="9.85" fill="#db8c91"/>
<circle cx="308.3" cy="435.1" r="2.03" fill="#c45a63"/>
<circle cx="244.4" cy="460.2" r="10.90" fill="#fff" stroke="#6dc1e2" stroke-width="1.4"/>
<circle cx="244.4" cy="460.2" r="9.85" fill="#db8c91"/>
<circle cx="244.0" cy="460.8" r="2.03" fill="#c45a63"/>
<circle cx="270.1" cy="460.2" r="10.90" fill="#fff" stroke="#6dc1e2" stroke-width="1.4"/>
<circle cx="270.1" cy="460.2" r="9.85" fill="#db8c91"/>
<circle cx="269.7" cy="460.8" r="2.03" fill="#c45a63"/>
<circle cx="295.6" cy="460.2" r="10.90" fill="#fff" stroke="#6dc1e2" stroke-width="1.4"/>
<circle cx="295.6" cy="460.2" r="9.85" fill="#db8c91"/>
<circle cx="295.2" cy="460.8" r="2.03" fill="#c45a63"/>
<text transform="translate(273.3,486.0) scale(1,1.1)" font-size="9.5" text-anchor="middle" fill="#1a1a1a" stroke="#1a1a1a" stroke-width="0.2" >GV oocytes</text>
<g transform="translate(322.0,419.8) rotate(-56.07)"><rect x="0" y="-0.75" width="66.1" height="1.5" fill="url(#fadeA)"/><path d="M65.6,-3.2 L72.6,0 L65.6,3.2 z" fill="#222"/></g>
<g transform="translate(326.4,425.2) rotate(-26.49)"><rect x="0" y="-0.75" width="27.8" height="1.5" fill="url(#fadeA)"/><path d="M27.3,-3.2 L34.3,0 L27.3,3.2 z" fill="#222"/></g>
<g transform="translate(324.9,440.6) rotate(26.99)"><rect x="0" y="-0.75" width="29.6" height="1.5" fill="url(#fadeA)"/><path d="M29.1,-3.2 L36.1,0 L29.1,3.2 z" fill="#222"/></g>
<g transform="translate(322.0,449.3) rotate(57.88)"><rect x="0" y="-0.75" width="59.5" height="1.5" fill="url(#fadeA)"/><path d="M59.0,-3.2 L66.0,0 L59.0,3.2 z" fill="#222"/></g>
<text transform="translate(381.2,351.2) scale(1,1.1)" font-size="9.5" text-anchor="middle" fill="#1a1a1a" stroke="#1a1a1a" stroke-width="0.2" >Control</text>
<text transform="translate(380.0,402.3) scale(1,1.1)" font-size="9.5" text-anchor="middle" fill="#1a1a1a" stroke="#1a1a1a" stroke-width="0.2" >NAC</text>
<text transform="translate(380.0,412.8) scale(1,1.1)" font-size="9.5" text-anchor="middle" fill="#1a1a1a" stroke="#1a1a1a" stroke-width="0.2" >(0.6 mM)</text>
<text transform="translate(377.3,457.0) scale(1,1.1)" font-size="9.5" text-anchor="middle" fill="#1a1a1a" stroke="#1a1a1a" stroke-width="0.2" >JQ1</text>
<text transform="translate(377.3,467.0) scale(1,1.1)" font-size="9.5" text-anchor="middle" fill="#1a1a1a" stroke="#1a1a1a" stroke-width="0.2" >(100 µM)</text>
<text transform="translate(385.8,517.9) scale(1,1.1)" font-size="9.5" text-anchor="middle" fill="#1a1a1a" stroke="#1a1a1a" stroke-width="0.2" >NAC + JQ1</text>
<path d="M407.5,342.6 C415,342.6 418.7,344 418.7,350 L418.7,424 C418.7,430 422,432.5 430.5,432.5 C422,432.5 418.7,435 418.7,441 L418.7,515 C418.7,521 415,522.4 407.5,522.4" fill="none" stroke="#222" stroke-width="1.6"/>
<g transform="translate(429.5,431.5) rotate(-40.38)"><rect x="0" y="-0.75" width="67.7" height="1.5" fill="url(#fadeA)"/><path d="M67.2,-3.3 L74.7,0 L67.2,3.3 z" fill="#222"/></g>
<text transform="translate(443.5,432) rotate(-40) scale(1,1.1)" font-size="9.5" fill="#1a1a1a" stroke="#1a1a1a" stroke-width="0.2">GV oocytes</text>
<text transform="translate(451.5,402.6) rotate(-40) scale(1,1.1)" font-size="10" fill="#1a1a1a" stroke="#1a1a1a" stroke-width="0.2" font-style="italic" text-anchor="middle">1h</text>
<circle cx="508.9" cy="346.8" r="9.60" fill="#fff" stroke="#6dc1e2" stroke-width="1.4"/>
<circle cx="508.9" cy="346.8" r="8.55" fill="#db8c91"/>
<circle cx="508.5" cy="347.4" r="1.80" fill="#c45a63"/>
<circle cx="531.8" cy="346.8" r="9.60" fill="#fff" stroke="#6dc1e2" stroke-width="1.4"/>
<circle cx="531.8" cy="346.8" r="8.55" fill="#db8c91"/>
<circle cx="531.4" cy="347.4" r="1.80" fill="#c45a63"/>
<circle cx="554.5" cy="346.8" r="9.60" fill="#fff" stroke="#6dc1e2" stroke-width="1.4"/>
<circle cx="554.5" cy="346.8" r="8.55" fill="#db8c91"/>
<circle cx="554.1" cy="347.4" r="1.80" fill="#c45a63"/>
<circle cx="497.7" cy="369.4" r="9.60" fill="#fff" stroke="#6dc1e2" stroke-width="1.4"/>
<circle cx="497.7" cy="369.4" r="8.55" fill="#db8c91"/>
<circle cx="497.3" cy="370.0" r="1.80" fill="#c45a63"/>
<circle cx="520.1" cy="365.8" r="9.60" fill="#fff" stroke="#6dc1e2" stroke-width="1.4"/>
<circle cx="520.1" cy="365.8" r="8.55" fill="#db8c91"/>
<circle cx="519.7" cy="366.4" r="1.80" fill="#c45a63"/>
<circle cx="543.0" cy="365.8" r="9.60" fill="#fff" stroke="#6dc1e2" stroke-width="1.4"/>
<circle cx="543.0" cy="365.8" r="8.55" fill="#db8c91"/>
<circle cx="542.6" cy="366.4" r="1.80" fill="#c45a63"/>
<circle cx="565.8" cy="365.8" r="9.60" fill="#fff" stroke="#6dc1e2" stroke-width="1.4"/>
<circle cx="565.8" cy="365.8" r="8.55" fill="#db8c91"/>
<circle cx="565.4" cy="366.4" r="1.80" fill="#c45a63"/>
<circle cx="508.9" cy="388.9" r="9.60" fill="#fff" stroke="#6dc1e2" stroke-width="1.4"/>
<circle cx="508.9" cy="388.9" r="8.55" fill="#db8c91"/>
<circle cx="508.5" cy="389.5" r="1.80" fill="#c45a63"/>
<circle cx="531.8" cy="388.9" r="9.60" fill="#fff" stroke="#6dc1e2" stroke-width="1.4"/>
<circle cx="531.8" cy="388.9" r="8.55" fill="#db8c91"/>
<circle cx="531.4" cy="389.5" r="1.80" fill="#c45a63"/>
<circle cx="554.5" cy="388.9" r="9.60" fill="#fff" stroke="#6dc1e2" stroke-width="1.4"/>
<circle cx="554.5" cy="388.9" r="8.55" fill="#db8c91"/>
<circle cx="554.1" cy="389.5" r="1.80" fill="#c45a63"/>
<g transform="translate(591.5,359.2) rotate(0.00)"><rect x="0" y="-0.80" width="32.7" height="1.6" fill="url(#fadeA)"/><path d="M32.2,-3.6 L39.7,0 L32.2,3.6 z" fill="#222"/></g>
<text transform="translate(642.8,361.0) scale(1,1.1)" font-size="10.5" text-anchor="start" fill="#1a1a1a" stroke="#1a1a1a" stroke-width="0.2" textLength="20" lengthAdjust="spacingAndGlyphs">ROS</text>
<g transform="translate(429.5,431.5) rotate(14.96)"><rect x="0" y="-0.75" width="142.8" height="1.5" fill="url(#fadeA)"/><path d="M142.3,-3.4 L150.3,0 L142.3,3.4 z" fill="#222"/></g>
<text transform="translate(513.5,449.2) rotate(15.4) scale(1,1.1)" font-size="9.5" fill="#1a1a1a" stroke="#1a1a1a" stroke-width="0.2" font-style="italic" text-anchor="middle">In vitro maturation</text>
<text transform="translate(506,463.5) rotate(15.4) scale(1,1.1)" font-size="9.5" fill="#1a1a1a" stroke="#1a1a1a" stroke-width="0.2" font-style="italic" text-anchor="middle">24h</text>
<circle cx="599.2" cy="442.3" r="10.6" fill="#f3f6fb" stroke="#3aa5ad" stroke-width="1"/>
<circle cx="599.2" cy="443.8" r="8.3" fill="#e8a5a8" stroke="#3d5a9c" stroke-width="0.9"/>
<circle cx="599.2" cy="433.7" r="2.1" fill="#111"/>
<circle cx="626.9" cy="442.3" r="10.6" fill="#f3f6fb" stroke="#3aa5ad" stroke-width="1"/>
<circle cx="626.9" cy="443.8" r="8.3" fill="#e8a5a8" stroke="#3d5a9c" stroke-width="0.9"/>
<circle cx="626.9" cy="433.7" r="2.1" fill="#111"/>
<circle cx="586.4" cy="465.3" r="10.6" fill="#f3f6fb" stroke="#3aa5ad" stroke-width="1"/>
<circle cx="586.4" cy="466.8" r="8.3" fill="#e8a5a8" stroke="#3d5a9c" stroke-width="0.9"/>
<circle cx="586.4" cy="456.7" r="2.1" fill="#111"/>
<circle cx="613.4" cy="465.3" r="10.6" fill="#f3f6fb" stroke="#3aa5ad" stroke-width="1"/>
<circle cx="613.4" cy="466.8" r="8.3" fill="#e8a5a8" stroke="#3d5a9c" stroke-width="0.9"/>
<circle cx="613.4" cy="456.7" r="2.1" fill="#111"/>
<circle cx="641.6" cy="465.3" r="10.6" fill="#f3f6fb" stroke="#3aa5ad" stroke-width="1"/>
<circle cx="641.6" cy="466.8" r="8.3" fill="#e8a5a8" stroke="#3d5a9c" stroke-width="0.9"/>
<circle cx="641.6" cy="456.7" r="2.1" fill="#111"/>
<circle cx="599.2" cy="488.3" r="10.6" fill="#f3f6fb" stroke="#3aa5ad" stroke-width="1"/>
<circle cx="599.2" cy="489.8" r="8.3" fill="#e8a5a8" stroke="#3d5a9c" stroke-width="0.9"/>
<circle cx="599.2" cy="479.7" r="2.1" fill="#111"/>
<circle cx="626.9" cy="488.3" r="10.6" fill="#f3f6fb" stroke="#3aa5ad" stroke-width="1"/>
<circle cx="626.9" cy="489.8" r="8.3" fill="#e8a5a8" stroke="#3d5a9c" stroke-width="0.9"/>
<circle cx="626.9" cy="479.7" r="2.1" fill="#111"/>
<text transform="translate(618.6,511.3) scale(1,1.1)" font-size="9.5" text-anchor="middle" fill="#1a1a1a" stroke="#1a1a1a" stroke-width="0.2" >M II oocytes</text>
<g transform="translate(617.3,516.7) rotate(90.00)"><rect x="0" y="-0.75" width="11.6" height="1.5" fill="#222"/><path d="M11.1,-3.2 L17.6,0 L11.1,3.2 z" fill="#222"/></g>
<circle cx="548.6" cy="543.7" r="1.6" fill="#1a1a1a"/>
<text transform="translate(557.3,546.9) scale(1,1.1)" font-size="9.75" text-anchor="start" fill="#1a1a1a" stroke="#1a1a1a" stroke-width="0.2" >Maturation rate</text>
<circle cx="548.6" cy="554.7" r="1.6" fill="#1a1a1a"/>
<text transform="translate(557.3,557.9) scale(1,1.1)" font-size="9.75" text-anchor="start" fill="#1a1a1a" stroke="#1a1a1a" stroke-width="0.2" >ROS</text>
<circle cx="548.6" cy="565.7" r="1.6" fill="#1a1a1a"/>
<text transform="translate(557.3,568.9) scale(1,1.1)" font-size="9.75" text-anchor="start" fill="#1a1a1a" stroke="#1a1a1a" stroke-width="0.2" >Phosphorylated mTOR level</text>
<text transform="translate(383.5,617.8) scale(0.85,1)" font-size="21" fill="#000">F</text>
<g clip-path="url(#cpi)">
<rect x="385.8" y="624.9" width="148.4" height="127.8" fill="#020b1d"/>
<ellipse cx="434.3" cy="626.5" rx="3" ry="6" fill="#1a3cff" filter="url(#b15)"/>
<ellipse cx="461.4" cy="685.6" rx="50.1" ry="51.1" fill="url(#gi)"/>
<g clip-path="url(#cpcell)"><ellipse cx="487" cy="668" rx="20" ry="18" fill="#3aac3c" opacity="0.35" filter="url(#b6)"/></g>
<ellipse cx="461.4" cy="685.6" rx="50.1" ry="51.1" fill="#000" filter="url(#noise)" opacity="0.7"/>
<ellipse cx="461.4" cy="685.6" rx="49.5" ry="50.5" fill="none" stroke="#3cc93e" stroke-width="1.6" filter="url(#b04)"/>
<path d="M410.5,688.0 C411.7,686.4 413.8,685.7 416.0,685.5 C418.2,685.3 421.2,685.9 424.0,687.0 C426.8,688.1 430.0,690.0 433.0,692.0 C436.0,694.0 439.3,696.3 442.0,699.0 C444.7,701.7 447.0,704.7 449.0,708.0 C451.0,711.3 452.6,715.5 454.0,719.0 C455.4,722.5 456.3,726.1 457.5,729.0 C458.7,731.9 461.9,735.2 461.0,736.5 C460.1,737.8 454.8,736.9 452.0,736.5 C449.2,736.1 446.7,735.1 444.0,734.0 C441.3,732.9 439.2,731.8 436.0,730.0 C432.8,728.2 428.5,725.7 425.0,723.0 C421.5,720.3 417.5,717.2 415.0,714.0 C412.5,710.8 411.0,707.2 410.0,704.0 C409.0,700.8 408.9,697.7 409.0,695.0 C409.1,692.3 409.3,689.6 410.5,688.0Z" fill="#248628"/>
<path d="M410.5,688.0 C411.4,687.6 413.8,685.7 416.0,685.5 C418.2,685.3 421.2,685.9 424.0,687.0 C426.8,688.1 430.0,690.0 433.0,692.0 C436.0,694.0 439.3,696.3 442.0,699.0 C444.7,701.7 447.0,704.7 449.0,708.0 C451.0,711.3 452.6,715.5 454.0,719.0 C455.4,722.5 456.3,726.1 457.5,729.0 C458.7,731.9 460.4,735.2 461.0,736.5" fill="none" stroke="#38bc3a" stroke-width="1.6" filter="url(#b04)"/>
<ellipse cx="428.6" cy="715.3" rx="22.5" ry="13.4" transform="rotate(46 428.6 715.3)" fill="#30c032" filter="url(#b08)"/>
<ellipse cx="428.6" cy="715.3" rx="21.6" ry="12.6" transform="rotate(46 428.6 715.3)" fill="#35dc37" stroke="#48f04a" stroke-width="1.2" filter="url(#b04)"/>
<ellipse cx="424" cy="712" rx="8" ry="5" transform="rotate(46 424 712)" fill="#2cc02e" opacity="0.5" filter="url(#b15)"/>
<ellipse cx="431.4" cy="718.6" rx="3.7" ry="3.5" fill="#2a78ff" filter="url(#b04)"/>
<circle cx="431.8" cy="718.2" r="1.6" fill="#40a0ff" filter="url(#b04)"/>
<ellipse cx="485.7" cy="676.6" rx="4" ry="2.2" fill="#2a60ff" opacity="0.75" filter="url(#b06)"/>
<ellipse cx="494.5" cy="682" rx="2.6" ry="3.2" fill="#2a60ff" opacity="0.9" filter="url(#b06)"/>
<ellipse cx="474.8" cy="682" rx="1.8" ry="2.8" fill="#2a60ff" opacity="0.8" filter="url(#b06)"/>
<ellipse cx="480" cy="673" rx="2.6" ry="1.8" fill="#2a60ff" opacity="0.55" filter="url(#b06)"/>
<ellipse cx="437.6" cy="651.4" rx="3" ry="3" fill="#2a60ff" opacity="0.3" filter="url(#b06)"/>
<ellipse cx="489" cy="679" rx="2.2" ry="1.8" fill="#2a60ff" opacity="0.7" filter="url(#b06)"/>
<ellipse cx="499" cy="675" rx="1.2" ry="2.5" fill="#2a60ff" opacity="0.5" filter="url(#b06)"/>
<ellipse cx="484" cy="688" rx="1.2" ry="2" fill="#2a60ff" opacity="0.45" filter="url(#b06)"/>
<rect x="506.1" y="745.2" width="24.5" height="2.2" fill="#f2e600"/>
</g>
<text x="396.6" y="646.6" font-size="20" fill="#fff">i</text>
<g clip-path="url(#cpii)">
<rect x="536.8" y="625.2" width="147.1" height="127.2" fill="#000"/>
<path d="M587.9,656.4 C586.7,656.5 584.4,652.8 582.5,651.7 C580.5,650.5 578.3,649.6 576.0,649.5 C573.6,649.4 570.9,649.9 568.4,651.0 C565.9,652.2 563.0,654.3 560.8,656.4 C558.7,658.6 557.0,661.1 555.4,664.0 C553.9,666.9 552.5,670.3 551.6,673.7 C550.7,677.1 550.3,680.9 550.0,684.5 C549.8,688.1 549.8,691.7 550.0,695.3 C550.3,698.9 550.7,702.5 551.6,706.1 C552.5,709.7 553.7,713.3 555.4,716.9 C557.2,720.5 559.4,724.5 561.9,727.7 C564.5,731.0 567.3,733.8 570.6,736.4 C573.8,738.9 577.4,741.4 581.4,742.8 C585.3,744.3 590.0,744.9 594.3,745.0 C598.7,745.1 603.3,744.5 607.3,743.3 C611.3,742.0 615.4,739.7 618.1,737.4 C620.8,735.2 622.3,732.0 623.5,729.9 C624.8,727.7 624.1,725.6 625.7,724.5 C627.3,723.3 630.2,723.5 633.2,723.0 C636.3,722.4 640.6,722.2 644.0,721.2 C647.5,720.2 650.9,718.9 653.8,716.9 C656.6,714.9 659.3,712.2 661.3,709.4 C663.3,706.5 664.6,703.0 665.6,699.6 C666.7,696.2 667.6,692.8 667.8,688.8 C668.0,684.9 667.4,680.2 666.7,675.9 C666.0,671.5 665.1,667.2 663.5,662.9 C661.9,658.6 659.5,653.5 657.0,649.9 C654.5,646.3 651.6,643.6 648.4,641.3 C645.1,638.9 641.5,637.1 637.6,635.9 C633.6,634.6 628.9,633.9 624.6,633.7 C620.3,633.5 615.6,633.9 611.6,634.8 C607.7,635.7 603.9,637.3 600.8,639.1 C597.8,640.9 595.1,643.6 593.3,645.6 C591.4,647.6 590.5,649.2 589.6,651.0 C588.7,652.8 589.0,656.3 587.9,656.4Z" fill="url(#gii)"/>
<path d="M587.9,656.4 C586.7,656.5 584.4,652.8 582.5,651.7 C580.5,650.5 578.3,649.6 576.0,649.5 C573.6,649.4 570.9,649.9 568.4,651.0 C565.9,652.2 563.0,654.3 560.8,656.4 C558.7,658.6 557.0,661.1 555.4,664.0 C553.9,666.9 552.5,670.3 551.6,673.7 C550.7,677.1 550.3,680.9 550.0,684.5 C549.8,688.1 549.8,691.7 550.0,695.3 C550.3,698.9 550.7,702.5 551.6,706.1 C552.5,709.7 553.7,713.3 555.4,716.9 C557.2,720.5 559.4,724.5 561.9,727.7 C564.5,731.0 567.3,733.8 570.6,736.4 C573.8,738.9 577.4,741.4 581.4,742.8 C585.3,744.3 590.0,744.9 594.3,745.0 C598.7,745.1 603.3,744.5 607.3,743.3 C611.3,742.0 615.4,739.7 618.1,737.4 C620.8,735.2 622.3,732.0 623.5,729.9 C624.8,727.7 624.1,725.6 625.7,724.5 C627.3,723.3 630.2,723.5 633.2,723.0 C636.3,722.4 640.6,722.2 644.0,721.2 C647.5,720.2 650.9,718.9 653.8,716.9 C656.6,714.9 659.3,712.2 661.3,709.4 C663.3,706.5 664.6,703.0 665.6,699.6 C666.7,696.2 667.6,692.8 667.8,688.8 C668.0,684.9 667.4,680.2 666.7,675.9 C666.0,671.5 665.1,667.2 663.5,662.9 C661.9,658.6 659.5,653.5 657.0,649.9 C654.5,646.3 651.6,643.6 648.4,641.3 C645.1,638.9 641.5,637.1 637.6,635.9 C633.6,634.6 628.9,633.9 624.6,633.7 C620.3,633.5 615.6,633.9 611.6,634.8 C607.7,635.7 603.9,637.3 600.8,639.1 C597.8,640.9 595.1,643.6 593.3,645.6 C591.4,647.6 590.5,649.2 589.6,651.0 C588.7,652.8 589.0,656.3 587.9,656.4Z" fill="#000" filter="url(#noise)" opacity="0.32"/>
<path d="M587.9,656.4 C586.7,656.5 584.4,652.8 582.5,651.7 C580.5,650.5 578.3,649.6 576.0,649.5 C573.6,649.4 570.9,649.9 568.4,651.0 C565.9,652.2 563.0,654.3 560.8,656.4 C558.7,658.6 557.0,661.1 555.4,664.0 C553.9,666.9 552.5,670.3 551.6,673.7 C550.7,677.1 550.3,680.9 550.0,684.5 C549.8,688.1 549.8,691.7 550.0,695.3 C550.3,698.9 550.7,702.5 551.6,706.1 C552.5,709.7 553.7,713.3 555.4,716.9 C557.2,720.5 559.4,724.5 561.9,727.7 C564.5,731.0 567.3,733.8 570.6,736.4 C573.8,738.9 577.4,741.4 581.4,742.8 C585.3,744.3 590.0,744.9 594.3,745.0 C598.7,745.1 603.3,744.5 607.3,743.3 C611.3,742.0 615.4,739.7 618.1,737.4 C620.8,735.2 622.3,732.0 623.5,729.9 C624.8,727.7 624.1,725.6 625.7,724.5 C627.3,723.3 630.2,723.5 633.2,723.0 C636.3,722.4 640.6,722.2 644.0,721.2 C647.5,720.2 650.9,718.9 653.8,716.9 C656.6,714.9 659.3,712.2 661.3,709.4 C663.3,706.5 664.6,703.0 665.6,699.6 C666.7,696.2 667.6,692.8 667.8,688.8 C668.0,684.9 667.4,680.2 666.7,675.9 C666.0,671.5 665.1,667.2 663.5,662.9 C661.9,658.6 659.5,653.5 657.0,649.9 C654.5,646.3 651.6,643.6 648.4,641.3 C645.1,638.9 641.5,637.1 637.6,635.9 C633.6,634.6 628.9,633.9 624.6,633.7 C620.3,633.5 615.6,633.9 611.6,634.8 C607.7,635.7 603.9,637.3 600.8,639.1 C597.8,640.9 595.1,643.6 593.3,645.6 C591.4,647.6 590.5,649.2 589.6,651.0 C588.7,652.8 589.0,656.3 587.9,656.4Z" fill="none" stroke="#2a8a2d" stroke-width="4" filter="url(#b15)" opacity="0.7"/>
<path d="M587.9,656.4 C586.7,656.5 584.4,652.8 582.5,651.7 C580.5,650.5 578.3,649.6 576.0,649.5 C573.6,649.4 570.9,649.9 568.4,651.0 C565.9,652.2 563.0,654.3 560.8,656.4 C558.7,658.6 557.0,661.1 555.4,664.0 C553.9,666.9 552.5,670.3 551.6,673.7 C550.7,677.1 550.3,680.9 550.0,684.5 C549.8,688.1 549.8,691.7 550.0,695.3 C550.3,698.9 550.7,702.5 551.6,706.1 C552.5,709.7 553.7,713.3 555.4,716.9 C557.2,720.5 559.4,724.5 561.9,727.7 C564.5,731.0 567.3,733.8 570.6,736.4 C573.8,738.9 577.4,741.4 581.4,742.8 C585.3,744.3 590.0,744.9 594.3,745.0 C598.7,745.1 603.3,744.5 607.3,743.3 C611.3,742.0 615.4,739.7 618.1,737.4 C620.8,735.2 622.3,732.0 623.5,729.9 C624.8,727.7 624.1,725.6 625.7,724.5 C627.3,723.3 630.2,723.5 633.2,723.0 C636.3,722.4 640.6,722.2 644.0,721.2 C647.5,720.2 650.9,718.9 653.8,716.9 C656.6,714.9 659.3,712.2 661.3,709.4 C663.3,706.5 664.6,703.0 665.6,699.6 C666.7,696.2 667.6,692.8 667.8,688.8 C668.0,684.9 667.4,680.2 666.7,675.9 C666.0,671.5 665.1,667.2 663.5,662.9 C661.9,658.6 659.5,653.5 657.0,649.9 C654.5,646.3 651.6,643.6 648.4,641.3 C645.1,638.9 641.5,637.1 637.6,635.9 C633.6,634.6 628.9,633.9 624.6,633.7 C620.3,633.5 615.6,633.9 611.6,634.8 C607.7,635.7 603.9,637.3 600.8,639.1 C597.8,640.9 595.1,643.6 593.3,645.6 C591.4,647.6 590.5,649.2 589.6,651.0 C588.7,652.8 589.0,656.3 587.9,656.4Z" fill="none" stroke="#33a036" stroke-width="1.6" filter="url(#b06)"/>
<ellipse cx="593.9" cy="697" rx="3.9" ry="4.9" transform="rotate(-25 593.9 697)" fill="#1e40ff" filter="url(#b04)"/>
<ellipse cx="626.8" cy="676.5" rx="4.9" ry="3.9" transform="rotate(25 626.8 676.5)" fill="#1e40ff" filter="url(#b04)"/>
<ellipse cx="639.3" cy="734.2" rx="3.4" ry="4.3" fill="#1e40ff" filter="url(#b04)"/>
<circle cx="668.2" cy="707.8" r="1.4" fill="#1830c0" filter="url(#b04)"/>
<rect x="651.2" y="744" width="24.8" height="2.2" fill="#f2e600"/>
</g>
<text x="546.5" y="648.3" font-size="20" fill="#fff" letter-spacing="1.1">ii</text>
<g clip-path="url(#cpiii)">
<rect x="386.3" y="756.5" width="147.9" height="127.8" fill="#030303"/>
<circle cx="462" cy="868" r="1.2" fill="#2a7a2c" opacity="0.7"/>
<circle cx="468" cy="872" r="0.9" fill="#2a7a2c" opacity="0.7"/>
<circle cx="472" cy="864" r="1" fill="#2a7a2c" opacity="0.7"/>
<circle cx="458" cy="874" r="0.8" fill="#2a7a2c" opacity="0.7"/>
<circle cx="476" cy="869" r="0.8" fill="#2a7a2c" opacity="0.7"/>
<circle cx="465" cy="862" r="0.7" fill="#2a7a2c" opacity="0.7"/>
<ellipse cx="468" cy="866" rx="10" ry="6" fill="#1b4a1d" opacity="0.45" filter="url(#b3)"/>
<path d="M487.6,772.2 C491.3,772.2 496.6,773.6 500.5,775.4 C504.5,777.2 508.3,779.8 511.3,783.0 C514.4,786.3 516.9,790.8 518.9,794.9 C520.9,799.0 522.3,803.9 523.2,807.9 C524.1,811.8 524.5,814.7 524.3,818.7 C524.1,822.6 523.4,827.7 522.1,831.6 C520.9,835.6 519.1,839.4 516.7,842.4 C514.4,845.5 511.1,848.1 508.1,850.0 C505.0,851.9 501.8,853.2 498.4,853.9 C494.9,854.6 491.2,854.8 487.6,854.3 C484.0,853.8 479.8,852.7 476.8,851.1 C473.7,849.5 470.5,847.5 469.2,844.6 C467.9,841.7 469.3,837.7 468.8,833.8 C468.2,829.8 467.0,824.8 465.9,820.8 C464.9,816.9 463.6,813.3 462.7,810.0 C461.8,806.8 460.4,804.6 460.5,801.4 C460.7,798.1 462.2,793.8 463.8,790.6 C465.4,787.3 467.9,784.5 470.3,781.9 C472.6,779.4 475.0,777.1 477.8,775.4 C480.7,773.8 483.8,772.2 487.6,772.2Z" fill="url(#giii)"/>
<path d="M487.6,772.2 C491.3,772.2 496.6,773.6 500.5,775.4 C504.5,777.2 508.3,779.8 511.3,783.0 C514.4,786.3 516.9,790.8 518.9,794.9 C520.9,799.0 522.3,803.9 523.2,807.9 C524.1,811.8 524.5,814.7 524.3,818.7 C524.1,822.6 523.4,827.7 522.1,831.6 C520.9,835.6 519.1,839.4 516.7,842.4 C514.4,845.5 511.1,848.1 508.1,850.0 C505.0,851.9 501.8,853.2 498.4,853.9 C494.9,854.6 491.2,854.8 487.6,854.3 C484.0,853.8 479.8,852.7 476.8,851.1 C473.7,849.5 470.5,847.5 469.2,844.6 C467.9,841.7 469.3,837.7 468.8,833.8 C468.2,829.8 467.0,824.8 465.9,820.8 C464.9,816.9 463.6,813.3 462.7,810.0 C461.8,806.8 460.4,804.6 460.5,801.4 C460.7,798.1 462.2,793.8 463.8,790.6 C465.4,787.3 467.9,784.5 470.3,781.9 C472.6,779.4 475.0,777.1 477.8,775.4 C480.7,773.8 483.8,772.2 487.6,772.2Z" fill="#000" filter="url(#noise)" opacity="0.3"/>
<path d="M487.6,772.2 C491.3,772.2 496.6,773.6 500.5,775.4 C504.5,777.2 508.3,779.8 511.3,783.0 C514.4,786.3 516.9,790.8 518.9,794.9 C520.9,799.0 522.3,803.9 523.2,807.9 C524.1,811.8 524.5,814.7 524.3,818.7 C524.1,822.6 523.4,827.7 522.1,831.6 C520.9,835.6 519.1,839.4 516.7,842.4 C514.4,845.5 511.1,848.1 508.1,850.0 C505.0,851.9 501.8,853.2 498.4,853.9 C494.9,854.6 491.2,854.8 487.6,854.3 C484.0,853.8 479.8,852.7 476.8,851.1 C473.7,849.5 470.5,847.5 469.2,844.6 C467.9,841.7 469.3,837.7 468.8,833.8 C468.2,829.8 467.0,824.8 465.9,820.8 C464.9,816.9 463.6,813.3 462.7,810.0 C461.8,806.8 460.4,804.6 460.5,801.4 C460.7,798.1 462.2,793.8 463.8,790.6 C465.4,787.3 467.9,784.5 470.3,781.9 C472.6,779.4 475.0,777.1 477.8,775.4 C480.7,773.8 483.8,772.2 487.6,772.2Z" fill="none" stroke="#2a9a2c" stroke-width="4" filter="url(#b15)" opacity="0.6"/>
<path d="M487.6,772.2 C491.3,772.2 496.6,773.6 500.5,775.4 C504.5,777.2 508.3,779.8 511.3,783.0 C514.4,786.3 516.9,790.8 518.9,794.9 C520.9,799.0 522.3,803.9 523.2,807.9 C524.1,811.8 524.5,814.7 524.3,818.7 C524.1,822.6 523.4,827.7 522.1,831.6 C520.9,835.6 519.1,839.4 516.7,842.4 C514.4,845.5 511.1,848.1 508.1,850.0 C505.0,851.9 501.8,853.2 498.4,853.9 C494.9,854.6 491.2,854.8 487.6,854.3 C484.0,853.8 479.8,852.7 476.8,851.1 C473.7,849.5 470.5,847.5 469.2,844.6 C467.9,841.7 469.3,837.7 468.8,833.8 C468.2,829.8 467.0,824.8 465.9,820.8 C464.9,816.9 463.6,813.3 462.7,810.0 C461.8,806.8 460.4,804.6 460.5,801.4 C460.7,798.1 462.2,793.8 463.8,790.6 C465.4,787.3 467.9,784.5 470.3,781.9 C472.6,779.4 475.0,777.1 477.8,775.4 C480.7,773.8 483.8,772.2 487.6,772.2Z" fill="none" stroke="#36c038" stroke-width="1.7" filter="url(#b04)"/>
<path d="M424.9,780.8 C428.9,781.0 435.7,781.7 440.0,783.0 C444.3,784.3 447.8,785.9 450.8,788.4 C453.9,790.9 456.4,794.5 458.4,798.1 C460.4,801.7 461.4,806.2 462.7,810.0 C464.0,813.8 464.9,816.9 465.9,820.8 C467.0,824.8 468.2,829.8 468.8,833.8 C469.3,837.7 469.5,841.4 469.2,844.6 C468.9,847.8 468.3,850.4 467.0,853.2 C465.8,856.1 464.0,859.2 461.6,861.9 C459.3,864.6 456.2,867.4 453.0,869.4 C449.7,871.5 446.1,873.3 442.2,874.4 C438.2,875.5 433.5,876.0 429.2,875.9 C424.9,875.8 420.2,875.4 416.3,873.8 C412.3,872.1 408.7,869.6 405.4,866.2 C402.2,862.8 399.0,857.9 396.8,853.2 C394.6,848.6 393.1,842.8 392.1,838.1 C391.0,833.4 390.7,829.8 390.8,825.1 C390.8,820.5 391.3,814.7 392.5,810.0 C393.7,805.3 395.4,801.0 397.9,797.1 C400.4,793.1 404.5,788.8 407.6,786.3 C410.7,783.7 413.4,782.8 416.3,781.9 C419.1,781.0 420.9,780.7 424.9,780.8Z" fill="url(#giii)"/>
<path d="M424.9,780.8 C428.9,781.0 435.7,781.7 440.0,783.0 C444.3,784.3 447.8,785.9 450.8,788.4 C453.9,790.9 456.4,794.5 458.4,798.1 C460.4,801.7 461.4,806.2 462.7,810.0 C464.0,813.8 464.9,816.9 465.9,820.8 C467.0,824.8 468.2,829.8 468.8,833.8 C469.3,837.7 469.5,841.4 469.2,844.6 C468.9,847.8 468.3,850.4 467.0,853.2 C465.8,856.1 464.0,859.2 461.6,861.9 C459.3,864.6 456.2,867.4 453.0,869.4 C449.7,871.5 446.1,873.3 442.2,874.4 C438.2,875.5 433.5,876.0 429.2,875.9 C424.9,875.8 420.2,875.4 416.3,873.8 C412.3,872.1 408.7,869.6 405.4,866.2 C402.2,862.8 399.0,857.9 396.8,853.2 C394.6,848.6 393.1,842.8 392.1,838.1 C391.0,833.4 390.7,829.8 390.8,825.1 C390.8,820.5 391.3,814.7 392.5,810.0 C393.7,805.3 395.4,801.0 397.9,797.1 C400.4,793.1 404.5,788.8 407.6,786.3 C410.7,783.7 413.4,782.8 416.3,781.9 C419.1,781.0 420.9,780.7 424.9,780.8Z" fill="#000" filter="url(#noise)" opacity="0.3"/>
<path d="M424.9,780.8 C428.9,781.0 435.7,781.7 440.0,783.0 C444.3,784.3 447.8,785.9 450.8,788.4 C453.9,790.9 456.4,794.5 458.4,798.1 C460.4,801.7 461.4,806.2 462.7,810.0 C464.0,813.8 464.9,816.9 465.9,820.8 C467.0,824.8 468.2,829.8 468.8,833.8 C469.3,837.7 469.5,841.4 469.2,844.6 C468.9,847.8 468.3,850.4 467.0,853.2 C465.8,856.1 464.0,859.2 461.6,861.9 C459.3,864.6 456.2,867.4 453.0,869.4 C449.7,871.5 446.1,873.3 442.2,874.4 C438.2,875.5 433.5,876.0 429.2,875.9 C424.9,875.8 420.2,875.4 416.3,873.8 C412.3,872.1 408.7,869.6 405.4,866.2 C402.2,862.8 399.0,857.9 396.8,853.2 C394.6,848.6 393.1,842.8 392.1,838.1 C391.0,833.4 390.7,829.8 390.8,825.1 C390.8,820.5 391.3,814.7 392.5,810.0 C393.7,805.3 395.4,801.0 397.9,797.1 C400.4,793.1 404.5,788.8 407.6,786.3 C410.7,783.7 413.4,782.8 416.3,781.9 C419.1,781.0 420.9,780.7 424.9,780.8Z" fill="none" stroke="#2a9a2c" stroke-width="4" filter="url(#b15)" opacity="0.6"/>
<path d="M424.9,780.8 C428.9,781.0 435.7,781.7 440.0,783.0 C444.3,784.3 447.8,785.9 450.8,788.4 C453.9,790.9 456.4,794.5 458.4,798.1 C460.4,801.7 461.4,806.2 462.7,810.0 C464.0,813.8 464.9,816.9 465.9,820.8 C467.0,824.8 468.2,829.8 468.8,833.8 C469.3,837.7 469.5,841.4 469.2,844.6 C468.9,847.8 468.3,850.4 467.0,853.2 C465.8,856.1 464.0,859.2 461.6,861.9 C459.3,864.6 456.2,867.4 453.0,869.4 C449.7,871.5 446.1,873.3 442.2,874.4 C438.2,875.5 433.5,876.0 429.2,875.9 C424.9,875.8 420.2,875.4 416.3,873.8 C412.3,872.1 408.7,869.6 405.4,866.2 C402.2,862.8 399.0,857.9 396.8,853.2 C394.6,848.6 393.1,842.8 392.1,838.1 C391.0,833.4 390.7,829.8 390.8,825.1 C390.8,820.5 391.3,814.7 392.5,810.0 C393.7,805.3 395.4,801.0 397.9,797.1 C400.4,793.1 404.5,788.8 407.6,786.3 C410.7,783.7 413.4,782.8 416.3,781.9 C419.1,781.0 420.9,780.7 424.9,780.8Z" fill="none" stroke="#36c038" stroke-width="1.7" filter="url(#b04)"/>
<path d="M459.0,800.3 C459.6,801.9 461.6,806.6 462.7,810.0 C463.9,813.4 465.0,816.9 465.9,820.8 C466.9,824.8 467.9,829.6 468.3,833.8 C468.8,837.9 468.7,843.7 468.8,845.7" fill="none" stroke="#4ef04e" stroke-width="2.6" filter="url(#b06)"/>
<ellipse cx="429.2" cy="799.2" rx="2.5" ry="3.5" fill="#2a55ff" opacity="0.9" filter="url(#b04)"/>
<ellipse cx="433" cy="802" rx="3.5" ry="2.2" fill="#2a55ff" opacity="0.85" filter="url(#b04)"/>
<ellipse cx="426" cy="804" rx="1.6" ry="2.5" fill="#2a55ff" opacity="0.7" filter="url(#b04)"/>
<ellipse cx="437" cy="806" rx="2.5" ry="1.5" fill="#2a55ff" opacity="0.6" filter="url(#b04)"/>
<ellipse cx="421" cy="790" rx="2.5" ry="0.9" fill="#2a55ff" opacity="0.5" filter="url(#b04)"/>
<ellipse cx="441" cy="797" rx="1.2" ry="2.8" fill="#2a55ff" opacity="0.5" filter="url(#b04)"/>
<ellipse cx="436" cy="812" rx="1.2" ry="1.2" fill="#2a55ff" opacity="0.5" filter="url(#b04)"/>
<ellipse cx="445" cy="810" rx="1.5" ry="0.8" fill="#2a55ff" opacity="0.5" filter="url(#b04)"/>
<ellipse cx="418" cy="795" rx="1" ry="1.5" fill="#2a55ff" opacity="0.4" filter="url(#b04)"/>
<ellipse cx="500.5" cy="810" rx="3.5" ry="2.8" fill="#2a55ff" opacity="0.9" filter="url(#b04)"/>
<ellipse cx="502" cy="806" rx="2.2" ry="3" fill="#2a55ff" opacity="0.85" filter="url(#b04)"/>
<ellipse cx="496.2" cy="814.3" rx="3.5" ry="1.8" fill="#2a55ff" opacity="0.75" filter="url(#b04)"/>
<ellipse cx="490" cy="812" rx="3" ry="1.2" fill="#2a55ff" opacity="0.6" filter="url(#b04)"/>
<ellipse cx="499" cy="818" rx="1.5" ry="1.8" fill="#2a55ff" opacity="0.7" filter="url(#b04)"/>
<ellipse cx="507" cy="811" rx="1.8" ry="1.5" fill="#2a55ff" opacity="0.6" filter="url(#b04)"/>
<ellipse cx="485" cy="811" rx="1.8" ry="0.9" fill="#2a55ff" opacity="0.45" filter="url(#b04)"/>
<rect x="386.3" y="756.5" width="147.9" height="127.8" fill="url(#scan)"/>
<rect x="505.9" y="877.6" width="24.4" height="2.2" fill="#f2e600"/>
</g>
<rect x="386.8" y="757" width="146.9" height="126.8" fill="none" stroke="#777" stroke-width="0.8"/>
<text x="392.2" y="779.8" font-size="20" fill="#fff" letter-spacing="1.3">iii</text>
<g clip-path="url(#cpiv)">
<rect x="537.2" y="756.8" width="146.7" height="128.3" fill="#000"/>
<path d="M628.9,769.0 C633.2,769.0 641.2,769.3 646.2,771.1 C651.2,772.9 655.4,776.2 659.2,779.8 C662.9,783.4 666.4,787.7 668.9,792.7 C671.3,797.8 672.9,804.3 673.9,810.0 C674.8,815.8 675.0,821.5 674.7,827.3 C674.4,833.1 673.6,839.5 672.1,844.6 C670.6,849.6 668.3,853.8 665.6,857.6 C662.9,861.3 659.9,864.8 655.9,867.3 C652.0,869.8 646.7,871.6 641.9,872.7 C637.0,873.8 630.9,874.5 626.8,873.8 C622.6,873.0 619.5,870.7 617.0,868.4 C614.6,866.0 613.3,862.2 612.1,859.7 C610.8,857.2 610.2,856.8 609.5,853.2 C608.8,849.6 608.5,843.5 608.0,838.1 C607.4,832.7 606.8,826.2 606.2,820.8 C605.7,815.4 605.3,810.4 604.7,805.7 C604.2,801.0 602.9,796.3 603.0,792.7 C603.1,789.1 603.7,787.0 605.1,784.1 C606.6,781.2 609.1,777.7 611.6,775.4 C614.1,773.2 617.4,771.8 620.3,770.7 C623.2,769.6 624.6,768.9 628.9,769.0Z" fill="url(#giv)"/>
<path d="M628.9,769.0 C633.2,769.0 641.2,769.3 646.2,771.1 C651.2,772.9 655.4,776.2 659.2,779.8 C662.9,783.4 666.4,787.7 668.9,792.7 C671.3,797.8 672.9,804.3 673.9,810.0 C674.8,815.8 675.0,821.5 674.7,827.3 C674.4,833.1 673.6,839.5 672.1,844.6 C670.6,849.6 668.3,853.8 665.6,857.6 C662.9,861.3 659.9,864.8 655.9,867.3 C652.0,869.8 646.7,871.6 641.9,872.7 C637.0,873.8 630.9,874.5 626.8,873.8 C622.6,873.0 619.5,870.7 617.0,868.4 C614.6,866.0 613.3,862.2 612.1,859.7 C610.8,857.2 610.2,856.8 609.5,853.2 C608.8,849.6 608.5,843.5 608.0,838.1 C607.4,832.7 606.8,826.2 606.2,820.8 C605.7,815.4 605.3,810.4 604.7,805.7 C604.2,801.0 602.9,796.3 603.0,792.7 C603.1,789.1 603.7,787.0 605.1,784.1 C606.6,781.2 609.1,777.7 611.6,775.4 C614.1,773.2 617.4,771.8 620.3,770.7 C623.2,769.6 624.6,768.9 628.9,769.0Z" fill="#000" filter="url(#noise)" opacity="0.3"/>
<path d="M628.9,769.0 C633.2,769.0 641.2,769.3 646.2,771.1 C651.2,772.9 655.4,776.2 659.2,779.8 C662.9,783.4 666.4,787.7 668.9,792.7 C671.3,797.8 672.9,804.3 673.9,810.0 C674.8,815.8 675.0,821.5 674.7,827.3 C674.4,833.1 673.6,839.5 672.1,844.6 C670.6,849.6 668.3,853.8 665.6,857.6 C662.9,861.3 659.9,864.8 655.9,867.3 C652.0,869.8 646.7,871.6 641.9,872.7 C637.0,873.8 630.9,874.5 626.8,873.8 C622.6,873.0 619.5,870.7 617.0,868.4 C614.6,866.0 613.3,862.2 612.1,859.7 C610.8,857.2 610.2,856.8 609.5,853.2 C608.8,849.6 608.5,843.5 608.0,838.1 C607.4,832.7 606.8,826.2 606.2,820.8 C605.7,815.4 605.3,810.4 604.7,805.7 C604.2,801.0 602.9,796.3 603.0,792.7 C603.1,789.1 603.7,787.0 605.1,784.1 C606.6,781.2 609.1,777.7 611.6,775.4 C614.1,773.2 617.4,771.8 620.3,770.7 C623.2,769.6 624.6,768.9 628.9,769.0Z" fill="none" stroke="#2ea030" stroke-width="4.5" filter="url(#b15)" opacity="0.6"/>
<path d="M628.9,769.0 C633.2,769.0 641.2,769.3 646.2,771.1 C651.2,772.9 655.4,776.2 659.2,779.8 C662.9,783.4 666.4,787.7 668.9,792.7 C671.3,797.8 672.9,804.3 673.9,810.0 C674.8,815.8 675.0,821.5 674.7,827.3 C674.4,833.1 673.6,839.5 672.1,844.6 C670.6,849.6 668.3,853.8 665.6,857.6 C662.9,861.3 659.9,864.8 655.9,867.3 C652.0,869.8 646.7,871.6 641.9,872.7 C637.0,873.8 630.9,874.5 626.8,873.8 C622.6,873.0 619.5,870.7 617.0,868.4 C614.6,866.0 613.3,862.2 612.1,859.7 C610.8,857.2 610.2,856.8 609.5,853.2 C608.8,849.6 608.5,843.5 608.0,838.1 C607.4,832.7 606.8,826.2 606.2,820.8 C605.7,815.4 605.3,810.4 604.7,805.7 C604.2,801.0 602.9,796.3 603.0,792.7 C603.1,789.1 603.7,787.0 605.1,784.1 C606.6,781.2 609.1,777.7 611.6,775.4 C614.1,773.2 617.4,771.8 620.3,770.7 C623.2,769.6 624.6,768.9 628.9,769.0Z" fill="none" stroke="#3cc83e" stroke-width="1.9" filter="url(#b04)"/>
<path d="M573.8,781.5 C578.1,781.5 583.7,782.0 587.9,783.2 C592.0,784.5 596.1,787.0 598.7,788.8 C601.3,790.7 602.4,791.7 603.4,794.5 C604.4,797.3 604.2,801.3 604.7,805.7 C605.2,810.1 605.7,815.4 606.2,820.8 C606.8,826.2 607.4,832.7 608.0,838.1 C608.5,843.5 609.9,848.9 609.5,853.2 C609.0,857.6 606.9,861.0 605.1,864.0 C603.3,867.1 601.5,869.6 598.7,871.6 C595.8,873.6 591.8,875.1 587.9,875.9 C583.9,876.8 579.2,877.1 574.9,876.6 C570.6,876.0 565.9,874.9 561.9,872.7 C558.0,870.4 554.2,866.9 551.1,863.0 C548.1,859.0 545.4,854.1 543.6,848.9 C541.7,843.7 540.5,837.0 539.9,831.6 C539.3,826.2 539.3,821.5 539.9,816.5 C540.5,811.5 541.7,805.9 543.6,801.4 C545.4,796.9 548.1,792.5 551.1,789.5 C554.2,786.5 558.1,784.6 561.9,783.2 C565.7,781.9 569.5,781.5 573.8,781.5Z" fill="url(#giv)"/>
<path d="M573.8,781.5 C578.1,781.5 583.7,782.0 587.9,783.2 C592.0,784.5 596.1,787.0 598.7,788.8 C601.3,790.7 602.4,791.7 603.4,794.5 C604.4,797.3 604.2,801.3 604.7,805.7 C605.2,810.1 605.7,815.4 606.2,820.8 C606.8,826.2 607.4,832.7 608.0,838.1 C608.5,843.5 609.9,848.9 609.5,853.2 C609.0,857.6 606.9,861.0 605.1,864.0 C603.3,867.1 601.5,869.6 598.7,871.6 C595.8,873.6 591.8,875.1 587.9,875.9 C583.9,876.8 579.2,877.1 574.9,876.6 C570.6,876.0 565.9,874.9 561.9,872.7 C558.0,870.4 554.2,866.9 551.1,863.0 C548.1,859.0 545.4,854.1 543.6,848.9 C541.7,843.7 540.5,837.0 539.9,831.6 C539.3,826.2 539.3,821.5 539.9,816.5 C540.5,811.5 541.7,805.9 543.6,801.4 C545.4,796.9 548.1,792.5 551.1,789.5 C554.2,786.5 558.1,784.6 561.9,783.2 C565.7,781.9 569.5,781.5 573.8,781.5Z" fill="#000" filter="url(#noise)" opacity="0.3"/>
<path d="M573.8,781.5 C578.1,781.5 583.7,782.0 587.9,783.2 C592.0,784.5 596.1,787.0 598.7,788.8 C601.3,790.7 602.4,791.7 603.4,794.5 C604.4,797.3 604.2,801.3 604.7,805.7 C605.2,810.1 605.7,815.4 606.2,820.8 C606.8,826.2 607.4,832.7 608.0,838.1 C608.5,843.5 609.9,848.9 609.5,853.2 C609.0,857.6 606.9,861.0 605.1,864.0 C603.3,867.1 601.5,869.6 598.7,871.6 C595.8,873.6 591.8,875.1 587.9,875.9 C583.9,876.8 579.2,877.1 574.9,876.6 C570.6,876.0 565.9,874.9 561.9,872.7 C558.0,870.4 554.2,866.9 551.1,863.0 C548.1,859.0 545.4,854.1 543.6,848.9 C541.7,843.7 540.5,837.0 539.9,831.6 C539.3,826.2 539.3,821.5 539.9,816.5 C540.5,811.5 541.7,805.9 543.6,801.4 C545.4,796.9 548.1,792.5 551.1,789.5 C554.2,786.5 558.1,784.6 561.9,783.2 C565.7,781.9 569.5,781.5 573.8,781.5Z" fill="none" stroke="#2ea030" stroke-width="4.5" filter="url(#b15)" opacity="0.6"/>
<path d="M573.8,781.5 C578.1,781.5 583.7,782.0 587.9,783.2 C592.0,784.5 596.1,787.0 598.7,788.8 C601.3,790.7 602.4,791.7 603.4,794.5 C604.4,797.3 604.2,801.3 604.7,805.7 C605.2,810.1 605.7,815.4 606.2,820.8 C606.8,826.2 607.4,832.7 608.0,838.1 C608.5,843.5 609.9,848.9 609.5,853.2 C609.0,857.6 606.9,861.0 605.1,864.0 C603.3,867.1 601.5,869.6 598.7,871.6 C595.8,873.6 591.8,875.1 587.9,875.9 C583.9,876.8 579.2,877.1 574.9,876.6 C570.6,876.0 565.9,874.9 561.9,872.7 C558.0,870.4 554.2,866.9 551.1,863.0 C548.1,859.0 545.4,854.1 543.6,848.9 C541.7,843.7 540.5,837.0 539.9,831.6 C539.3,826.2 539.3,821.5 539.9,816.5 C540.5,811.5 541.7,805.9 543.6,801.4 C545.4,796.9 548.1,792.5 551.1,789.5 C554.2,786.5 558.1,784.6 561.9,783.2 C565.7,781.9 569.5,781.5 573.8,781.5Z" fill="none" stroke="#3cc83e" stroke-width="1.9" filter="url(#b04)"/>
<path d="M602.6,791.7 C602.9,794.0 604.1,800.8 604.7,805.7 C605.3,810.6 605.7,815.4 606.2,820.8 C606.8,826.2 607.4,832.5 608.0,838.1 C608.5,843.7 609.4,851.6 609.7,854.3" fill="none" stroke="#3ad63c" stroke-width="7.5" filter="url(#b15)"/>
<path d="M602.6,791.7 C602.9,794.0 604.1,800.8 604.7,805.7 C605.3,810.6 605.7,815.4 606.2,820.8 C606.8,826.2 607.4,832.5 608.0,838.1 C608.5,843.7 609.4,851.6 609.7,854.3" fill="none" stroke="#5cfa5c" stroke-width="4.2" filter="url(#b06)"/>
<path d="M607.3,857.6 C607.4,854.9 609.1,854.3 609.9,854.3 C610.7,854.3 611.8,854.9 612.1,857.6 C612.3,860.3 611.7,868.4 611.2,870.5 C610.7,872.7 609.7,872.7 609.0,870.5 C608.4,868.4 607.2,860.3 607.3,857.6Z" fill="#050505" filter="url(#b04)"/>
<circle cx="603" cy="820.8" r="1.6" fill="#40ffc8" filter="url(#b04)"/>
<circle cx="603.5" cy="864.5" r="2" fill="#40ffc8" filter="url(#b04)"/>
<circle cx="617" cy="860" r="1.5" fill="#40ffc8" filter="url(#b04)"/>
<ellipse cx="561" cy="773" rx="5.3" ry="6" fill="#1a48ff" filter="url(#b08)"/>
<ellipse cx="571.5" cy="773" rx="5" ry="7" fill="#1a48ff" filter="url(#b08)"/>
<ellipse cx="586" cy="775.7" rx="6.5" ry="5" fill="#1a48ff" filter="url(#b08)"/>
<ellipse cx="573" cy="779" rx="3" ry="2" fill="#30c0ff" opacity="0.6" filter="url(#b08)"/>
<ellipse cx="588" cy="841" rx="3.5" ry="2.5" fill="#2a55ff" opacity="0.85" filter="url(#b04)"/>
<ellipse cx="583" cy="844" rx="2.5" ry="1.8" fill="#2a55ff" opacity="0.75" filter="url(#b04)"/>
<ellipse cx="593" cy="838" rx="1.8" ry="2.8" fill="#2a55ff" opacity="0.75" filter="url(#b04)"/>
<ellipse cx="585" cy="849" rx="1.8" ry="1.3" fill="#2a55ff" opacity="0.6" filter="url(#b04)"/>
<ellipse cx="592" cy="846" rx="1.8" ry="1.8" fill="#2a55ff" opacity="0.6" filter="url(#b04)"/>
<ellipse cx="580" cy="846" rx="1.5" ry="1" fill="#2a55ff" opacity="0.5" filter="url(#b04)"/>
<ellipse cx="596" cy="836" rx="1.5" ry="2.2" fill="#2a55ff" opacity="0.7" filter="url(#b04)"/>
<ellipse cx="590" cy="834" rx="1.2" ry="1.5" fill="#2a55ff" opacity="0.55" filter="url(#b04)"/>
<ellipse cx="579" cy="842" rx="2" ry="1.2" fill="#2a55ff" opacity="0.55" filter="url(#b04)"/>
<ellipse cx="587" cy="852" rx="1.2" ry="1.2" fill="#2a55ff" opacity="0.5" filter="url(#b04)"/>
<ellipse cx="597" cy="843" rx="1.2" ry="1.5" fill="#2a55ff" opacity="0.5" filter="url(#b04)"/>
<ellipse cx="632" cy="857.6" rx="3.5" ry="2.6" fill="#2a55ff" opacity="0.85" filter="url(#b04)"/>
<ellipse cx="628" cy="855" rx="1.8" ry="2.8" fill="#2a55ff" opacity="0.75" filter="url(#b04)"/>
<ellipse cx="637" cy="859" rx="1.8" ry="1.8" fill="#2a55ff" opacity="0.75" filter="url(#b04)"/>
<ellipse cx="627" cy="838" rx="0.9" ry="2.5" fill="#2a55ff" opacity="0.45" filter="url(#b04)"/>
<ellipse cx="635" cy="862" rx="1.5" ry="1.2" fill="#2a55ff" opacity="0.6" filter="url(#b04)"/>
<ellipse cx="640" cy="856" rx="1.5" ry="2" fill="#2a55ff" opacity="0.65" filter="url(#b04)"/>
<ellipse cx="630" cy="861" rx="2" ry="1.5" fill="#2a55ff" opacity="0.6" filter="url(#b04)"/>
<ellipse cx="626" cy="852" rx="1.2" ry="1.2" fill="#2a55ff" opacity="0.5" filter="url(#b04)"/>
<ellipse cx="641" cy="861" rx="1.2" ry="1.2" fill="#2a55ff" opacity="0.5" filter="url(#b04)"/>
<rect x="651.6" y="876.4" width="24.4" height="2.2" fill="#f2e600"/>
</g>
<text x="542.8" y="777" font-size="20" fill="#fff">iv</text>
</svg>
</body></html>
